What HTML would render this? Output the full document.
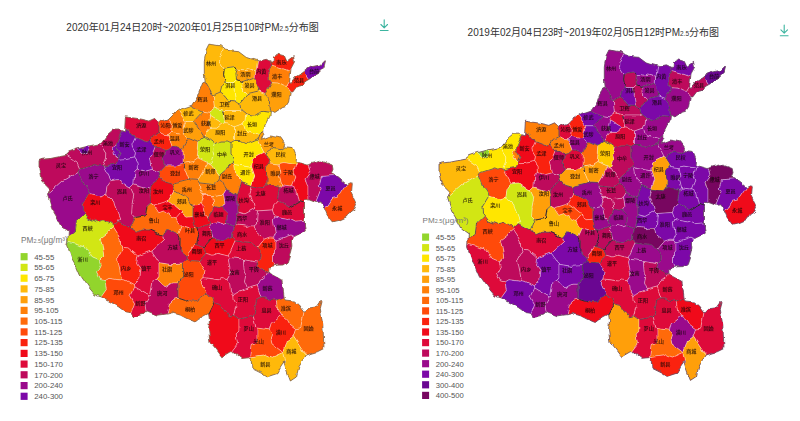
<!DOCTYPE html>
<html lang="zh"><head><meta charset="utf-8"><title>PM2.5分布图</title>
<style>
html,body{margin:0;padding:0;background:#fff;}
body{width:800px;height:421px;overflow:hidden;position:relative;font-family:"Liberation Sans","Noto Sans CJK SC",sans-serif;}
svg{position:absolute;left:0;top:0;}
.ttl{font-size:10px;fill:#333;font-family:"Liberation Sans","Noto Sans CJK SC",sans-serif;}
.lt{fill:#777;font-family:"Liberation Sans","Noto Sans CJK SC",sans-serif;}
.lg{fill:#555;font-family:"Liberation Sans","Noto Sans CJK SC",sans-serif;}
.lab text{font-size:5.1px;fill:#140808;fill-opacity:.85;stroke:#140808;stroke-width:.16px;stroke-opacity:.6;text-anchor:middle;font-family:"Liberation Sans","Noto Sans CJK SC",sans-serif;}
</style></head><body>
<svg width="800" height="421" viewBox="0 0 800 421">
<rect width="800" height="421" fill="#fff"/>
<defs><filter id="wv" x="-5%" y="-5%" width="110%" height="110%" color-interpolation-filters="sRGB"><feTurbulence type="fractalNoise" baseFrequency="0.11" numOctaves="2" seed="7" result="n"/><feDisplacementMap in="SourceGraphic" in2="n" scale="4.5" xChannelSelector="R" yChannelSelector="G"/></filter></defs>
<g id="mapL" style="filter:blur(.45px)">
<g filter="url(#wv)">
<g stroke="#fff" stroke-opacity=".6" stroke-width=".5" stroke-linejoin="round">
<path d="M223.7,48.7L220.3,45.9L214.0,44.8L208.9,44.2L206.0,50.0L204.3,61.8L204.3,73.5L205.2,80.9L212.3,93.9L214.4,94.6L220.2,92.0L221.6,86.6L225.1,82.5L223.6,74.5L224.2,68.1L219.7,61.3L220.2,56.7L221.3,55.5Z" fill="#FFB90A"/>
<path d="M238.7,51.7L232.0,51.0L225.3,50.0L223.7,48.7L221.3,55.5L220.2,56.7L219.7,61.3L224.2,68.1L236.0,66.4L237.3,69.2L245.1,69.9L247.7,68.7L255.6,71.0L256.2,70.5L257.7,60.7L252.0,59.0L245.4,56.8Z" fill="#FFB90A"/>
<path d="M255.6,71.0L247.7,68.7L245.1,69.9L237.3,69.2L235.9,73.4L236.6,79.6L241.6,81.6L246.8,80.1L249.5,80.8L255.3,78.7Z" fill="#FF9F0A"/>
<path d="M271.7,65.2L270.4,61.2L266.3,59.3L258.8,61.0L257.7,60.7L256.2,70.5L255.6,71.0L255.3,78.7L256.3,79.5L258.8,90.9L265.1,93.6L271.7,82.8L269.4,79.5L268.7,70.5Z" fill="#DE0A3A"/>
<path d="M270.4,112.3L270.5,111.7L270.7,111.8L268.9,98.4L265.4,94.6L265.1,93.6L258.8,90.9L249.5,93.2L248.0,94.5L246.8,94.8L239.9,103.9L240.8,109.7L245.5,113.5L245.8,114.1L253.9,115.3L263.0,111.3Z" fill="#FFB90A"/>
<path d="M223.6,74.5L225.1,82.5L233.4,82.5L236.6,79.6L235.9,73.4L237.3,69.2L236.0,66.4L224.2,68.1Z" fill="#FFE600"/>
<path d="M236.6,79.6L233.4,82.5L234.3,90.2L234.0,90.7L235.4,100.9L239.9,103.9L246.8,94.8L242.8,90.8L241.6,81.6Z" fill="#FFE600"/>
<path d="M225.1,82.5L221.6,86.6L220.2,92.0L222.4,93.2L227.9,100.3L235.4,100.9L234.0,90.7L234.3,90.2L233.4,82.5Z" fill="#FFE600"/>
<path d="M256.3,79.5L255.3,78.7L249.5,80.8L246.8,80.1L241.6,81.6L242.8,90.8L246.8,94.8L248.0,94.5L249.5,93.2L258.8,90.9Z" fill="#FFB90A"/>
<path d="M284.4,55.9L278.6,54.2L273.5,56.8L273.0,62.6L270.4,61.2L271.7,65.2L281.7,68.1L283.0,67.8L290.8,70.5L291.0,68.5L294.5,61.8L293.6,56.8L287.0,61.8Z" fill="#FA220F"/>
<path d="M271.7,65.2L268.7,70.5L269.4,79.5L271.7,82.8L278.0,83.1L283.1,86.0L286.6,86.4L289.6,81.5L290.8,70.5L283.0,67.8L281.7,68.1Z" fill="#FF7F08"/>
<path d="M271.7,82.8L265.1,93.6L265.4,94.6L268.9,98.4L270.7,111.8L273.9,113.4L282.7,107.5L285.6,106.7L288.6,102.0L290.3,92.0L291.1,92.0L286.6,86.4L283.1,86.0L278.0,83.1Z" fill="#FF9F0A"/>
<path d="M302.0,73.5L295.3,77.7L291.0,83.5L289.5,82.0L289.6,81.5L286.6,86.4L291.1,92.0L292.8,92.0L297.8,85.2L302.0,84.4L306.2,81.0L308.6,79.6L303.6,72.1Z" fill="#FA220F"/>
<path d="M323.8,67.6L325.5,61.0L324.6,60.1L319.6,65.1L311.2,66.8L304.9,71.0L303.6,72.1L308.6,79.6L316.3,75.2Z" fill="#7C08A8"/>
<path d="M205.2,80.9L202.7,81.9L197.6,95.3L191.8,105.3L189.9,105.9L202.1,112.1L203.1,111.4L209.2,112.4L215.4,108.2L214.4,94.6L212.3,93.9Z" fill="#FF7F08"/>
<path d="M220.2,92.0L214.4,94.6L215.4,108.2L222.9,110.5L238.8,110.5L240.8,109.7L239.9,103.9L235.4,100.9L227.9,100.3L222.4,93.2Z" fill="#FFB90A"/>
<path d="M224.8,122.7L222.8,110.4L215.4,108.2L209.2,112.4L210.4,116.3L222.1,123.8L224.3,123.1Z" fill="#D2E614"/>
<path d="M210.4,116.3L209.0,124.8L210.6,128.2L216.8,128.2L222.1,123.8Z" fill="#FFB90A"/>
<path d="M209.2,112.4L203.1,111.4L202.1,112.1L195.3,119.5L194.4,121.5L194.9,122.4L195.0,123.3L203.9,136.5L204.8,136.5L210.6,128.2L209.0,124.8L210.4,116.3Z" fill="#FF7F08"/>
<path d="M222.9,110.5L224.8,122.7L228.5,122.9L234.5,126.8L243.2,123.6L245.1,120.4L245.8,114.1L245.5,113.5L240.8,109.7L238.8,110.5Z" fill="#FFB90A"/>
<path d="M263.8,128.5L270.0,116.0L270.4,112.3L263.0,111.3L253.9,115.3L245.8,114.1L245.1,120.4L243.2,123.6L245.3,130.4L259.8,134.6L262.1,131.8L263.8,130.6Z" fill="#FFE600"/>
<path d="M216.8,128.2L210.6,128.2L204.8,136.5L214.5,143.8L220.0,141.0L226.9,141.0L231.0,142.5L234.5,140.5L234.5,126.8L228.5,122.9L224.8,122.7L224.3,123.1L222.1,123.8Z" fill="#FFB90A"/>
<path d="M234.5,126.8L234.5,140.5L240.2,140.5L246.4,143.8L248.3,143.6L257.7,139.8L259.8,134.6L245.3,130.4L243.2,123.6Z" fill="#FFB90A"/>
<path d="M189.9,105.9L181.7,108.7L178.2,111.1L185.8,121.5L194.4,121.5L195.3,119.5L202.1,112.1Z" fill="#FFB90A"/>
<path d="M188.9,137.5L197.8,141.2L203.9,136.5L195.0,123.3L194.9,122.4L194.4,121.5L185.8,121.5L184.1,123.6L182.1,133.3L188.2,137.6Z" fill="#FF9F0A"/>
<path d="M185.8,121.5L178.2,111.1L172.0,115.0L168.5,118.5L172.2,125.3L171.6,131.9L179.3,134.1L182.1,133.3L184.1,123.6Z" fill="#FF7F08"/>
<path d="M168.0,134.7L171.6,131.9L172.2,125.3L168.5,118.5L168.0,119.0L162.0,121.0L159.0,123.4L159.0,132.2L163.2,134.3Z" fill="#FF4A0A"/>
<path d="M159.0,132.2L153.2,135.2L150.1,141.3L154.9,147.2L161.0,147.7L165.8,150.5L168.7,149.6L172.2,146.5L168.0,134.7L163.2,134.3Z" fill="#FA220F"/>
<path d="M171.6,131.9L168.0,134.7L172.2,146.5L176.3,146.2L182.3,148.3L188.2,137.6L182.1,133.3L179.3,134.1Z" fill="#FF7F08"/>
<path d="M137.0,118.4L125.4,116.8L124.7,129.3L133.8,134.4L134.5,135.5L135.2,137.7L146.4,142.0L150.1,141.3L153.2,135.2L159.0,132.2L159.0,123.4L158.9,123.5L154.7,118.4L148.8,121.0Z" fill="#DE0A3A"/>
<path d="M204.8,136.5L203.9,136.5L197.8,141.2L197.2,149.5L197.8,150.5L197.2,158.6L207.7,163.8L211.2,163.1L212.5,161.2L214.1,154.5L212.9,150.5L214.5,143.8Z" fill="#D2E614"/>
<path d="M197.8,141.2L188.9,137.5L188.2,137.6L182.3,148.3L183.0,149.5L183.0,163.5L192.6,161.8L197.2,158.6L197.8,150.5L197.2,149.5Z" fill="#FF7F08"/>
<path d="M214.5,143.8L212.9,150.5L214.1,154.5L212.5,161.2L211.2,163.1L218.4,175.3L231.4,163.9L233.3,163.2L233.5,159.5L231.0,154.5L231.0,142.5L226.9,141.0L220.0,141.0Z" fill="#D2E614"/>
<path d="M183.0,163.5L183.0,149.5L182.3,148.3L176.3,146.2L172.2,146.5L168.7,149.6L165.8,150.5L162.9,159.2L164.4,166.0L175.8,166.0L178.6,164.4Z" fill="#9A0A8C"/>
<path d="M189.0,179.1L183.0,163.5L178.6,164.4L175.8,166.0L164.4,166.0L159.1,171.7L160.4,178.1L164.9,182.3L172.9,184.1L174.2,182.8Z" fill="#FF4A0A"/>
<path d="M192.6,161.8L183.1,163.6L189.0,179.1L190.4,179.9L197.7,180.3L200.1,176.5L207.7,163.8L197.2,158.6Z" fill="#FF7F08"/>
<path d="M218.4,175.3L211.2,163.1L207.7,163.8L200.1,176.5L197.7,180.3L199.2,182.8L213.5,184.6L219.4,179.9L218.3,176.5Z" fill="#FF9F0A"/>
<path d="M257.7,139.8L248.3,143.6L246.4,143.8L240.2,140.5L234.5,140.5L231.0,142.5L231.0,154.5L233.5,159.5L233.3,163.2L234.4,164.4L251.0,167.2L251.7,167.0L252.7,159.3L255.0,157.0L264.0,152.5Z" fill="#FFE600"/>
<path d="M259.8,134.6L257.7,139.8L264.0,152.5L264.9,152.9L272.5,148.4L280.0,149.7L284.0,147.0L284.7,143.6L280.6,137.7L270.5,136.0L261.3,139.4L263.8,133.5L263.8,130.6L262.1,131.8Z" fill="#FF9F0A"/>
<path d="M251.7,167.0L254.7,176.0L251.6,185.2L252.1,186.0L264.0,187.7L266.7,184.7L267.2,177.2L266.5,176.0L266.5,167.0L269.6,163.0L264.9,152.9L264.0,152.5L255.0,157.0L252.7,159.3Z" fill="#F00A1A"/>
<path d="M235.9,175.9L241.6,181.6L251.6,185.2L254.7,176.0L251.7,167.0L251.0,167.2L234.4,164.4Z" fill="#FFE600"/>
<path d="M231.4,163.9L218.4,175.3L218.3,176.5L219.4,179.9L222.4,181.9L226.1,189.8L228.2,190.1L237.5,195.7L237.6,195.6L241.6,181.6L235.9,175.9L234.4,164.4L233.3,163.2Z" fill="#FF7F08"/>
<path d="M283.9,147.7L284.0,147.0L280.0,149.7L272.5,148.4L264.9,152.9L269.6,163.0L279.2,164.1L280.0,163.4L283.9,162.6L295.8,164.7L298.7,162.5L296.0,161.7L296.5,157.0L293.1,148.6Z" fill="#FFB90A"/>
<path d="M267.2,177.2L266.7,184.7L279.2,187.2L281.8,184.9L279.6,175.8L281.0,172.8L279.2,164.1L269.6,163.0L266.5,167.0L266.5,176.0Z" fill="#FF7F08"/>
<path d="M281.0,172.8L279.6,175.8L281.8,184.9L289.9,186.0L291.6,185.4L294.9,177.0L293.6,174.2L295.8,164.7L283.9,162.6L280.0,163.4L279.2,164.1Z" fill="#FF4A0A"/>
<path d="M293.6,174.2L294.9,177.0L291.6,185.4L296.5,188.5L299.2,200.8L299.7,201.5L304.5,203.3L304.5,199.5L308.0,199.8L308.0,186.8L307.2,186.1L305.1,177.9L310.0,171.2L308.1,164.9L307.9,165.0L298.7,162.5L295.8,164.7Z" fill="#F00A1A"/>
<path d="M321.4,176.4L334.7,175.6L331.3,173.5L333.0,169.3L332.2,165.0L321.3,160.9L311.2,163.4L308.1,164.9L310.0,171.2L305.1,177.9L307.2,186.1L308.0,186.8L308.0,199.8L309.5,200.0L315.7,202.4L321.2,188.4L319.3,185.0Z" fill="#BE0A5C"/>
<path d="M321.4,176.4L319.3,185.0L321.2,188.4L315.7,202.4L316.0,202.5L321.0,202.0L322.9,205.0L324.1,207.7L327.6,205.8L332.3,198.5L338.0,197.0L346.5,184.3L346.4,184.3L338.0,177.6L334.7,175.6Z" fill="#7C08A8"/>
<path d="M351.4,193.6L352.3,183.5L349.7,182.7L346.5,184.3L338.0,197.0L332.3,198.5L327.6,205.8L324.1,207.7L327.1,215.0L332.1,221.8L339.7,220.0L346.4,217.0L349.7,212.0L354.8,208.6L356.5,204.4Z" fill="#FF4A0A"/>
<path d="M296.5,188.5L291.6,185.4L289.9,186.0L281.8,184.9L279.2,187.2L277.4,199.4L277.8,201.6L279.9,201.7L289.2,207.3L299.7,201.5L299.2,200.8Z" fill="#BE0A5C"/>
<path d="M154.9,147.2L151.4,155.9L150.0,157.0L152.5,169.3L159.1,171.7L164.4,166.0L162.9,159.2L165.8,150.5L161.0,147.7Z" fill="#BE0A5C"/>
<path d="M132.3,147.6L135.3,152.8L134.6,157.9L138.0,162.9L138.3,168.1L146.2,171.0L152.5,169.3L150.0,157.0L151.4,155.9L154.9,147.2L150.1,141.3L146.4,142.0L135.2,137.7L131.8,145.0Z" fill="#7C08A8"/>
<path d="M135.2,137.7L134.5,135.5L133.8,134.4L124.7,129.3L124.5,131.8L121.8,130.8L116.8,142.7L116.0,143.2L115.5,143.7L115.4,144.3L119.8,152.5L117.4,157.1L118.3,159.2L125.4,158.8L126.5,159.5L134.6,157.9L135.3,152.8L132.3,147.6L131.8,145.0Z" fill="#7C08A8"/>
<path d="M118.3,159.2L115.9,163.9L103.3,166.1L111.1,180.8L118.4,179.7L129.1,187.4L130.5,187.5L133.9,184.1L134.9,171.0L138.3,168.1L138.0,162.9L134.6,157.9L126.5,159.5L125.4,158.8Z" fill="#7C08A8"/>
<path d="M138.3,168.1L134.9,171.0L133.9,184.1L134.4,184.0L149.4,188.3L150.7,185.0L160.4,178.1L159.1,171.7L152.5,169.3L146.2,171.0Z" fill="#9A0A8C"/>
<path d="M78.4,172.7L83.2,185.1L84.8,185.9L89.5,193.4L100.7,196.1L105.8,194.4L107.2,186.6L111.1,180.8L103.3,166.1L102.4,165.5L97.3,165.5L94.8,164.4L80.5,169.2Z" fill="#9A0A8C"/>
<path d="M84.6,213.4L85.3,213.8L88.7,218.3L97.0,221.9L104.1,219.8L113.1,226.1L118.4,221.2L119.7,218.1L114.2,203.8L114.3,203.1L113.4,201.1L105.8,194.4L100.7,196.1L89.5,193.4L83.1,204.5L83.5,211.7Z" fill="#F00A1A"/>
<path d="M111.1,180.8L107.2,186.6L105.8,194.4L113.4,201.1L114.3,203.1L114.2,203.8L119.7,218.1L118.4,221.2L130.3,228.0L134.4,217.0L131.8,214.1L132.3,205.2L132.0,204.6L133.9,194.8L130.5,187.5L129.1,187.4L118.4,179.7Z" fill="#BE0A5C"/>
<path d="M130.5,187.5L133.9,194.8L132.0,204.6L132.3,205.2L131.8,214.1L134.4,217.0L136.0,217.4L145.4,215.7L146.9,206.6L150.6,203.2L150.3,196.3L150.4,196.0L149.4,188.3L134.4,184.0L133.9,184.1Z" fill="#BE0A5C"/>
<path d="M121.8,130.8L119.5,130.0L112.8,130.0L106.0,136.0L100.3,143.6L99.8,143.7L105.7,153.3L105.5,158.0L102.4,165.5L103.3,166.1L115.9,163.9L118.3,159.2L117.4,157.1L114.6,155.3L113.3,148.5L115.4,144.3L115.5,143.7L116.0,143.2L116.8,142.7Z" fill="#BE0A5C"/>
<path d="M119.8,152.5L115.4,144.3L113.3,148.5L114.6,155.3L117.4,157.1Z" fill="#7C08A8"/>
<path d="M97.3,165.5L102.4,165.5L105.5,158.0L105.7,153.3L99.8,143.7L90.2,145.7L87.0,153.7L81.2,153.3L78.0,148.8L68.4,152.0L66.7,155.3L77.7,162.6L80.5,169.2L94.8,164.4Z" fill="#BE0A5C"/>
<path d="M81.2,153.3L87.0,153.7L90.2,145.7L88.5,146.0L78.0,148.8Z" fill="#7C08A8"/>
<path d="M80.5,169.2L77.7,162.6L66.7,155.3L57.5,157.0L50.0,158.6L42.0,159.3L39.0,160.5L39.0,168.0L40.5,176.7L41.7,180.0L50.0,188.5L48.1,193.6L61.5,181.4L62.8,181.7L77.7,172.8L78.4,172.7Z" fill="#BE0A5C"/>
<path d="M62.8,181.7L61.5,181.4L48.1,193.6L47.5,195.2L51.7,208.6L56.7,217.0L61.8,227.0L68.4,231.7L68.1,236.3L75.3,231.0L76.5,221.5L84.6,213.4L83.5,211.7L83.1,204.5L89.5,193.4L84.8,185.9L83.2,185.1L78.4,172.7L77.7,172.8Z" fill="#9A0A8C"/>
<path d="M150.4,196.0L150.3,196.3L150.6,203.2L154.1,205.4L168.5,200.9L168.6,200.8L168.6,200.2L174.6,189.9L172.9,184.1L164.9,182.3L160.4,178.1L150.7,185.0L149.4,188.3Z" fill="#F00A1A"/>
<path d="M170.4,214.7L164.3,210.7L158.8,212.6L154.1,205.4L150.6,203.2L146.9,206.6L145.4,215.7L136.0,217.4L134.4,217.0L130.3,228.0L130.8,229.3L136.7,232.5L142.2,230.0L149.5,230.0L162.6,236.1L167.5,229.5L169.0,229.5L178.6,234.3L182.3,225.9L181.9,225.1L177.8,222.5L176.1,218.8L170.9,217.0Z" fill="#FF6A0A"/>
<path d="M185.2,195.5L174.6,189.9L168.6,200.2L168.6,200.8L174.8,205.3L175.1,206.0L181.1,210.9L181.3,212.8L187.1,217.3L193.0,216.7L193.0,205.4L190.7,204.0L187.0,197.5L185.9,196.8Z" fill="#FF9F0A"/>
<path d="M158.8,212.6L164.3,210.7L170.4,214.7L170.9,217.0L176.1,218.8L181.3,212.8L181.1,210.9L175.1,206.0L174.8,205.3L168.6,200.8L154.1,205.4Z" fill="#F00A1A"/>
<path d="M177.8,222.5L181.9,225.1L182.3,225.9L192.4,229.1L195.4,228.1L193.1,216.8L193.0,216.7L187.1,217.3L181.3,212.8L176.1,218.8Z" fill="#F00A1A"/>
<path d="M182.3,225.9L178.6,234.3L180.0,238.9L180.0,249.6L186.7,255.6L194.3,245.2L196.7,244.6L198.8,234.2L196.9,228.7L195.4,228.1L192.4,229.1Z" fill="#FF4A0A"/>
<path d="M186.7,255.6L187.2,259.3L189.6,260.6L199.5,261.2L205.9,253.4L203.5,247.5L196.7,244.6L194.3,245.2Z" fill="#F00A1A"/>
<path d="M172.9,184.1L174.6,189.9L185.2,195.5L185.9,196.8L187.0,197.5L190.7,204.0L193.0,205.4L200.4,203.9L203.5,194.5L200.1,190.0L199.2,182.8L197.7,180.3L190.4,179.9L189.0,179.1L174.2,182.8Z" fill="#FF7F08"/>
<path d="M226.1,189.8L222.4,181.9L219.4,179.9L213.5,184.6L199.2,182.8L200.1,190.0L203.5,194.5L211.3,194.5L212.8,195.7L223.4,194.2Z" fill="#FF7F08"/>
<path d="M212.8,195.7L211.3,194.5L203.5,194.5L200.4,203.9L202.7,205.8L204.7,215.4L208.0,218.2L215.1,206.6L213.7,205.2Z" fill="#FF4A0A"/>
<path d="M213.7,205.2L215.1,206.6L220.5,207.9L222.5,207.5L225.0,203.5L223.4,194.2L212.8,195.7Z" fill="#FF7F08"/>
<path d="M223.4,194.2L225.0,203.5L222.5,207.5L227.4,213.0L226.4,222.3L234.4,225.4L235.7,224.7L238.2,212.1L238.0,211.8L238.0,204.8L236.5,202.4L237.5,195.7L228.2,190.1L226.1,189.8Z" fill="#9A0A8C"/>
<path d="M193.0,205.4L193.0,216.7L195.4,228.1L196.9,228.7L209.7,223.7L210.0,223.2L208.0,218.2L204.7,215.4L202.7,205.8L200.4,203.9Z" fill="#F00A1A"/>
<path d="M215.1,206.6L208.0,218.2L210.0,223.2L216.5,222.0L222.5,223.7L226.4,222.3L227.4,213.0L222.5,207.5L220.5,207.9Z" fill="#DE0A3A"/>
<path d="M212.9,237.8L209.7,223.7L196.9,228.7L198.7,234.3L196.7,244.6L203.5,247.5L211.5,238.5Z" fill="#DE0A3A"/>
<path d="M226.4,222.3L222.5,223.7L216.5,222.0L210.0,223.2L209.7,223.7L212.9,237.8L215.4,238.6L216.3,239.7L222.9,241.0L232.8,237.3L232.6,236.6L234.4,225.4Z" fill="#9A0A8C"/>
<path d="M237.6,195.6L237.5,195.7L236.5,202.4L238.0,204.8L238.0,211.8L238.2,212.1L245.0,213.9L254.8,208.4L253.3,202.9L253.3,202.5L249.9,194.4L252.1,186.0L251.6,185.2L241.6,181.6Z" fill="#DE0A3A"/>
<path d="M266.7,184.7L264.0,187.7L252.1,186.0L249.9,194.4L253.3,202.5L253.3,202.9L254.8,208.4L257.5,210.9L272.4,209.9L274.0,205.6L277.8,201.6L277.4,199.4L279.2,187.2Z" fill="#DE0A3A"/>
<path d="M257.5,210.9L254.8,208.4L245.0,213.9L238.2,212.1L235.7,224.7L247.1,226.4L248.0,226.0L254.1,226.0L256.5,224.1Z" fill="#BE0A5C"/>
<path d="M272.4,209.9L257.5,210.9L256.5,224.1L254.1,226.0L255.6,231.7L264.4,239.1L269.8,237.1L273.6,237.3L275.4,232.7L273.4,220.0L274.9,217.0Z" fill="#BE0A5C"/>
<path d="M289.2,207.3L279.9,201.7L277.8,201.6L274.0,205.6L272.4,209.9L274.9,217.0L287.9,219.6L289.0,219.0L295.5,222.2L304.5,221.5L304.5,203.3L299.7,201.5Z" fill="#DE0A3A"/>
<path d="M275.4,232.7L273.6,237.3L275.0,239.3L277.5,239.5L291.0,235.0L294.6,236.8L295.3,236.0L305.3,231.0L304.5,225.0L304.5,221.5L295.5,222.2L289.0,219.0L287.9,219.6L274.9,217.0L273.4,220.0Z" fill="#9A0A8C"/>
<path d="M235.4,240.1L242.8,240.9L243.8,241.8L250.8,242.7L256.8,247.2L257.7,247.4L264.4,239.1L255.6,231.7L254.1,226.0L248.0,226.0L247.1,226.4L235.7,224.7L234.4,225.4L232.6,236.6L232.8,237.3Z" fill="#DE0A3A"/>
<path d="M275.0,239.3L273.6,237.3L269.8,237.1L264.4,239.1L257.7,247.4L260.0,250.3L260.0,258.1L257.1,262.2L258.8,267.3L268.2,272.5L268.9,271.9L268.9,266.9L275.0,265.7L273.5,261.9L273.5,251.7L275.0,249.6Z" fill="#FA220F"/>
<path d="M291.9,246.0L291.5,240.0L294.6,236.8L291.0,235.0L277.5,239.5L275.0,239.3L275.0,249.6L273.5,251.7L273.5,261.9L275.0,265.7L277.3,265.2L283.0,265.0L287.3,261.9L290.6,251.8Z" fill="#BE0A5C"/>
<path d="M235.4,240.1L232.8,237.3L222.9,241.0L216.3,239.7L215.4,238.6L212.9,237.8L211.5,238.5L203.5,247.5L205.9,253.4L213.0,255.3L217.7,253.4L228.4,256.1L228.6,255.2Z" fill="#F00A1A"/>
<path d="M242.0,259.0L243.5,260.0L244.1,259.9L257.1,262.2L260.0,258.1L260.0,250.3L257.7,247.4L256.8,247.2L250.8,242.7L243.8,241.8L242.8,240.9L235.4,240.1L228.6,255.2L228.4,256.1L229.4,257.7Z" fill="#DE0A3A"/>
<path d="M205.9,253.4L199.5,261.2L205.0,270.6L203.8,277.7L218.4,279.8L220.5,278.7L227.1,279.5L230.8,273.6L228.6,260.3L229.4,257.7L228.4,256.1L217.7,253.4L213.0,255.3Z" fill="#DE0A3A"/>
<path d="M229.4,257.7L228.6,260.3L230.8,273.6L227.1,279.5L229.7,283.4L230.3,291.5L232.9,294.9L247.1,289.2L247.3,288.5L244.6,281.7L245.9,274.5L244.3,272.2L243.5,260.0L242.0,259.0Z" fill="#BE0A5C"/>
<path d="M245.9,274.5L244.6,281.7L247.3,288.5L257.2,285.8L259.2,283.8L259.9,280.7L267.9,274.3L268.2,272.5L258.8,267.3L257.1,262.2L244.1,259.9L243.5,260.0L244.3,272.2Z" fill="#BE0A5C"/>
<path d="M272.6,275.0L268.9,272.0L268.9,271.9L268.2,272.5L267.9,274.3L259.9,280.7L259.2,283.8L257.2,285.8L261.0,297.0L265.2,297.0L269.2,299.5L273.6,299.5L276.3,301.0L284.2,297.7L283.5,291.8L281.8,280.0Z" fill="#9A0A8C"/>
<path d="M229.7,283.4L227.1,279.5L220.5,278.7L218.4,279.8L203.8,277.7L201.8,279.6L201.2,283.0L206.0,294.1L212.8,297.2L214.6,302.9L220.7,304.6L229.3,316.1L233.6,315.3L236.6,304.0L233.1,298.5L232.9,294.9L230.3,291.5Z" fill="#DE0A3A"/>
<path d="M232.9,294.9L233.1,298.5L236.6,304.0L233.6,315.3L239.0,319.0L253.3,316.4L254.7,313.9L254.4,312.9L256.6,299.2L261.0,297.0L257.2,285.8L247.3,288.5L247.1,289.2Z" fill="#DE0A3A"/>
<path d="M203.8,277.7L205.0,270.6L199.5,261.2L189.6,260.6L187.2,259.3L182.5,263.1L182.5,277.7L180.8,279.8L180.3,281.0L178.0,283.0L178.0,298.0L184.8,300.2L188.0,299.6L191.4,301.2L197.3,300.5L206.0,294.1L201.2,283.0L201.8,279.6Z" fill="#FF4A0A"/>
<path d="M180.0,238.9L178.6,234.3L169.0,229.5L167.5,229.5L162.6,236.1L163.5,240.5L151.3,251.5L156.9,259.4L157.0,260.0L159.0,262.7L172.0,264.8L173.7,263.7L182.5,263.1L187.2,259.3L186.7,255.6L180.0,249.6Z" fill="#BE0A5C"/>
<path d="M118.4,221.2L113.1,226.1L113.1,227.4L120.1,238.4L120.7,244.0L123.2,247.5L128.1,247.9L137.6,256.0L150.5,251.2L151.3,251.5L163.5,240.5L162.6,236.1L149.5,230.0L142.2,230.0L136.7,232.5L130.8,229.3L130.3,228.0Z" fill="#F00A1A"/>
<path d="M101.7,243.0L102.8,244.0L104.7,255.3L99.2,260.8L100.2,264.7L96.5,272.0L100.3,279.6L105.0,280.7L109.0,278.4L120.2,280.0L121.4,279.5L118.7,263.3L118.2,262.7L117.6,257.4L123.2,247.5L120.7,244.0L120.1,238.4L113.1,227.4L100.4,237.5Z" fill="#FF6A0A"/>
<path d="M117.6,257.4L118.2,262.7L118.7,263.3L121.4,279.5L125.9,280.4L133.4,284.6L138.7,279.3L140.1,268.5L136.7,263.8L137.6,256.0L128.1,247.9L123.2,247.5Z" fill="#FA220F"/>
<path d="M156.7,278.4L159.0,275.5L159.0,262.7L157.0,260.0L156.9,259.4L151.3,251.5L150.5,251.2L137.6,256.0L136.7,263.8L140.1,268.5L138.7,279.3L133.4,284.6L133.8,286.9L149.2,295.9L150.6,295.5L153.1,280.5L155.1,279.0Z" fill="#DE0A3A"/>
<path d="M159.0,275.5L156.7,278.4L164.6,287.5L166.0,287.5L172.8,283.0L178.0,283.0L180.3,281.0L180.8,279.8L182.5,277.7L182.5,263.1L173.7,263.7L172.0,264.8L159.0,262.7Z" fill="#FF7F08"/>
<path d="M113.1,227.4L113.1,226.1L104.1,219.8L97.0,221.9L88.7,218.3L85.3,213.8L84.6,213.4L76.5,221.5L75.3,231.0L68.1,236.3L67.8,242.1L83.8,246.7L85.9,250.1L88.2,251.1L92.0,257.7L99.2,260.8L104.7,255.3L102.8,244.0L101.7,243.0L100.4,237.5Z" fill="#D2E614"/>
<path d="M67.8,242.1L67.6,245.0L71.8,258.5L76.8,267.0L80.2,275.0L88.5,287.0L95.2,295.0L101.2,296.9L106.4,289.5L105.0,280.7L100.3,279.6L96.5,272.0L100.2,264.7L99.2,260.8L92.0,257.7L88.2,251.1L85.9,250.1L83.8,246.7Z" fill="#92D52C"/>
<path d="M105.0,280.7L106.4,289.5L101.2,296.9L110.3,301.8L118.6,306.9L125.3,311.9L130.4,312.7L130.9,313.3L134.6,303.0L130.1,294.8L133.8,286.9L133.4,284.6L125.9,280.4L121.4,279.5L120.2,280.0L109.0,278.4Z" fill="#FF4A0A"/>
<path d="M130.1,294.8L134.6,303.0L130.9,313.3L133.7,316.9L143.8,314.4L146.3,311.9L144.9,303.0L149.2,295.9L133.8,286.9Z" fill="#DE0A3A"/>
<path d="M156.7,278.4L155.1,279.0L153.1,280.5L150.6,295.5L149.2,295.9L144.9,303.0L146.3,311.9L147.1,311.0L157.2,315.2L167.3,313.8L169.7,303.0L173.9,299.4L178.0,298.0L178.0,283.0L172.8,283.0L166.0,287.5L164.6,287.5Z" fill="#BE0A5C"/>
<path d="M208.7,314.6L214.6,302.9L212.8,297.2L206.0,294.1L197.3,300.5L191.4,301.2L188.0,299.6L184.8,300.2L178.0,298.0L173.9,299.4L169.7,303.0L167.3,313.8L168.9,313.6L172.2,312.7L180.6,315.2L186.8,318.5L195.0,321.9L199.3,318.5L208.5,313.5Z" fill="#FF6A0A"/>
<path d="M261.0,297.0L256.6,299.2L254.4,312.9L254.7,313.9L253.3,316.4L255.7,327.0L257.0,328.1L269.3,329.9L271.2,323.2L280.8,315.6L278.2,312.0L276.3,301.0L273.6,299.5L269.2,299.5L265.2,297.0Z" fill="#DE0A3A"/>
<path d="M280.8,315.6L283.1,316.3L287.7,320.3L289.4,323.7L295.8,328.7L300.0,328.0L301.0,327.0L304.0,311.9L303.5,311.9L298.5,305.0L293.5,301.0L285.0,300.0L284.3,298.5L284.2,297.7L276.3,301.0L278.2,312.0Z" fill="#FF6A0A"/>
<path d="M208.7,314.6L209.5,320.0L208.5,330.0L210.0,341.7L216.8,350.0L221.8,356.8L230.2,351.8L232.0,351.8L232.2,350.6L237.6,343.5L236.2,333.8L239.0,331.0L239.0,319.0L233.6,315.3L229.3,316.1L220.7,304.6L214.6,302.9Z" fill="#F00A1A"/>
<path d="M239.0,331.0L236.2,333.8L237.6,343.5L232.2,350.6L232.0,351.8L233.5,351.8L241.9,358.5L249.2,357.8L249.7,356.9L251.2,345.4L255.7,343.7L257.0,342.2L257.0,328.1L255.7,327.0L253.3,316.4L239.0,319.0Z" fill="#DE0A3A"/>
<path d="M287.7,320.3L283.1,316.3L280.8,315.6L271.2,323.2L269.3,329.9L272.4,334.8L270.9,339.4L271.9,343.8L282.8,352.4L284.2,351.3L287.5,340.8L293.2,336.5L295.8,328.7L289.4,323.7Z" fill="#FA220F"/>
<path d="M269.3,329.9L257.0,328.1L257.0,342.2L255.7,343.7L251.2,345.4L249.7,356.9L264.1,355.0L265.0,353.9L272.2,357.3L282.7,352.6L282.8,352.4L271.9,343.8L270.9,339.4L272.4,334.8Z" fill="#FF4A0A"/>
<path d="M322.0,301.8L321.1,300.2L317.0,306.0L310.2,306.9L305.2,311.9L304.0,311.9L301.0,327.0L300.0,328.0L295.8,328.7L293.2,336.5L304.1,353.0L304.6,353.2L306.2,355.3L306.4,355.0L317.3,351.8L324.0,348.4L322.8,325.3L320.3,308.5Z" fill="#FF6A0A"/>
<path d="M293.2,336.5L287.5,340.8L284.2,351.3L282.8,352.4L282.7,352.6L284.7,363.4L284.5,363.9L287.0,372.0L290.4,381.0L296.3,377.0L298.8,366.9L306.2,355.3L304.6,353.2L304.1,353.0Z" fill="#FFB90A"/>
<path d="M264.1,355.0L249.7,356.9L249.2,357.8L251.0,357.6L251.9,368.5L262.0,373.6L267.0,376.9L277.0,373.6L280.4,366.9L283.8,361.8L284.5,363.9L284.7,363.4L282.7,352.6L272.2,357.3L265.0,353.9Z" fill="#FFB90A"/>
</g>
<path d="M205.4,81.3L212.3,93.9M212.3,93.9L214.4,94.6M214.4,94.6L220.2,92.0M220.2,92.0L221.6,86.6M221.6,86.6L225.1,82.5M225.1,82.5L223.6,74.5L224.2,68.1M224.2,68.1L236.0,66.4M236.0,66.4L236.0,66.4L237.3,69.2M237.3,69.2L235.9,73.4M235.9,73.4L236.6,79.6M236.6,79.6L241.6,81.6M241.6,81.6L246.8,80.1M246.8,80.1L249.5,80.8M249.5,80.8L255.3,78.7M255.3,78.7L256.3,79.5M256.3,79.5L258.8,90.9M258.8,90.9L249.5,93.2M249.5,93.2L248.0,94.5M248.0,94.5L246.8,94.8M246.8,94.8L239.9,103.9M239.9,103.9L240.8,109.7M240.8,109.7L245.5,113.5M245.5,113.5L245.8,114.1M245.8,114.1L253.9,115.3M253.9,115.3L263.0,111.3M263.0,111.3L270.1,112.3M270.6,111.4L268.9,98.4M268.9,98.4L265.4,94.6M265.4,94.6L265.1,93.6M265.1,93.6L271.7,82.8M271.7,82.8L269.4,79.5M269.4,79.5L268.7,70.5M268.7,70.5L271.7,65.2M271.7,65.2L270.5,61.6M237.3,69.2L236.0,66.4M224.2,68.1L223.6,74.5L225.1,82.5M220.2,92.0L222.4,93.2M222.4,93.2L227.9,100.3M227.9,100.3L235.4,100.9M235.4,100.9L239.9,103.9M241.6,81.6L241.6,81.6L236.6,79.6M190.3,106.1L202.1,112.1M202.1,112.1L195.3,119.5M195.3,119.5L194.4,121.5M194.4,121.5L194.9,122.4M194.9,122.4L195.0,123.3M195.0,123.3L203.9,136.5M203.9,136.5L204.8,136.5M204.8,136.5L214.5,143.8M214.5,143.8L220.0,141.0M220.0,141.0L226.9,141.0M226.9,141.0L231.0,142.5M231.0,142.5L234.5,140.5M234.5,140.5L240.2,140.5M240.2,140.5L246.4,143.8M246.4,143.8L248.3,143.6M248.3,143.6L257.7,139.8M257.7,139.8L259.8,134.6M259.8,134.6L262.1,131.8M262.1,131.8L263.5,130.8M222.8,110.5L223.6,114.8L223.5,114.9L222.8,110.5M159.0,123.8L159.0,132.2M159.0,132.2L153.2,135.2M153.2,135.2L150.1,141.3M150.1,141.3L154.9,147.2M154.9,147.2L161.0,147.7M161.0,147.7L165.8,150.5M165.8,150.5L168.7,149.6M168.7,149.6L172.2,146.5M172.2,146.5L176.3,146.2M176.3,146.2L182.3,148.3M182.3,148.3L188.2,137.6M188.2,137.6L188.9,137.5M188.9,137.5L197.8,141.2M197.8,141.2L203.9,136.5M124.9,129.4L133.8,134.4M133.8,134.4L134.5,135.5M134.5,135.5L135.2,137.7M135.2,137.7L146.4,142.0M146.4,142.0L150.1,141.3M165.8,150.5L162.9,159.2M162.9,159.2L164.4,166.0M164.4,166.0L159.1,171.7M159.1,171.7L160.4,178.1M160.4,178.1L164.9,182.3M164.9,182.3L172.9,184.1M172.9,184.1L174.2,182.8M174.2,182.8L189.0,179.1M189.0,179.1L190.4,179.9M190.4,179.9L197.7,180.3M197.7,180.3L199.2,182.8M199.2,182.8L213.5,184.6M213.5,184.6L219.4,179.9M219.4,179.9L218.3,176.5M218.3,176.5L218.4,175.3M218.4,175.3L231.4,163.9M231.4,163.9L233.3,163.2M233.3,163.2L233.5,159.5M233.5,159.5L231.0,154.5M231.0,154.5L231.0,142.5M183.0,163.5L184.2,163.3L183.1,163.6L184.6,167.4L183.0,163.5M219.4,179.9L222.4,181.9M222.4,181.9L226.1,189.8M226.1,189.8L228.2,190.1M228.2,190.1L237.5,195.7M237.5,195.7L237.6,195.6M237.6,195.6L241.6,181.6M241.6,181.6L251.6,185.2M251.6,185.2L252.1,186.0M252.1,186.0L264.0,187.7M264.0,187.7L266.7,184.7M266.7,184.7L267.2,177.2M267.2,177.2L266.5,176.0M266.5,176.0L266.5,167.0M266.5,167.0L269.6,163.0M269.6,163.0L264.9,152.9M264.9,152.9L272.5,148.4M272.5,148.4L280.0,149.7M280.0,149.7L283.7,147.2M266.7,184.7L279.2,187.2M279.2,187.2L277.4,199.4M277.4,199.4L277.8,201.6M277.8,201.6L279.9,201.7M279.9,201.7L289.2,207.3M289.2,207.3L299.7,201.5L304.2,203.2M121.7,131.1L116.8,142.7M116.8,142.7L116.0,143.2M116.0,143.2L115.5,143.7M115.5,143.7L115.4,144.3M115.4,144.3L119.8,152.5M119.8,152.5L117.4,157.1M117.4,157.1L118.3,159.2M118.3,159.2L115.9,163.9M115.9,163.9L103.3,166.1M103.3,166.1L102.4,165.5M102.4,165.5L97.3,165.5M97.3,165.5L94.8,164.4M94.8,164.4L80.5,169.2M80.5,169.2L78.4,172.7M78.4,172.7L83.2,185.1M83.2,185.1L84.8,185.9M84.8,185.9L89.5,193.4M89.5,193.4L83.1,204.5M83.1,204.5L83.5,211.7M83.5,211.7L84.6,213.4M84.6,213.4L85.3,213.8M85.3,213.8L88.7,218.3M88.7,218.3L97.0,221.9M97.0,221.9L104.1,219.8M104.1,219.8L113.1,226.1M113.1,226.1L118.4,221.2M118.4,221.2L130.3,228.0M130.3,228.0L134.4,217.0M134.4,217.0L136.0,217.4M136.0,217.4L145.4,215.7L146.9,206.6M146.9,206.6L150.6,203.2M150.6,203.2L150.3,196.3M150.3,196.3L150.4,196.0M150.4,196.0L149.4,188.3M149.4,188.3L150.7,185.0M150.7,185.0L160.4,178.1M68.4,236.1L75.3,231.0M75.3,231.0L76.5,221.5M76.5,221.5L84.6,213.4M146.9,206.6L145.4,215.7L136.0,217.4M130.3,228.0L130.8,229.3M130.8,229.3L136.7,232.5M136.7,232.5L142.2,230.0M142.2,230.0L149.5,230.0M149.5,230.0L162.6,236.1M162.6,236.1L167.5,229.5M167.5,229.5L169.0,229.5M169.0,229.5L178.6,234.3M178.6,234.3L180.0,238.9L180.0,249.6M180.0,249.6L186.7,255.6M186.7,255.6L187.2,259.3M187.2,259.3L189.6,260.6M189.6,260.6L199.5,261.2M199.5,261.2L205.9,253.4M205.9,253.4L203.5,247.5M203.5,247.5L196.7,244.6M196.7,244.6L198.8,234.2L196.9,228.7M196.9,228.7L195.4,228.1M195.4,228.1L193.0,216.7M193.0,216.7L193.0,205.4M193.0,205.4L190.7,204.0M190.7,204.0L187.0,197.5M187.0,197.5L185.9,196.8M185.9,196.8L185.2,195.5M185.2,195.5L174.6,189.9M174.6,189.9L172.9,184.1M196.9,228.7L209.7,223.7M209.7,223.7L210.0,223.2M210.0,223.2L208.0,218.2M208.0,218.2L215.1,206.6M215.1,206.6L220.5,207.9M220.5,207.9L222.5,207.5M222.5,207.5L227.4,213.0M227.4,213.0L226.4,222.3M226.4,222.3L234.4,225.4M234.4,225.4L235.7,224.7M235.7,224.7L238.2,212.1M238.2,212.1L238.0,211.8M238.0,211.8L238.0,204.8M238.0,204.8L236.5,202.4M236.5,202.4L237.5,195.7M196.9,228.7L198.7,234.3L196.7,244.6M203.5,247.5L211.5,238.5L212.9,237.8M212.9,237.8L215.4,238.6M215.4,238.6L216.3,239.7M216.3,239.7L222.9,241.0M222.9,241.0L232.8,237.3M232.8,237.3L232.6,236.6M232.6,236.6L234.4,225.4M232.8,237.3L235.4,240.1M235.4,240.1L242.8,240.9M242.8,240.9L243.8,241.8M243.8,241.8L250.8,242.7M250.8,242.7L256.8,247.2M256.8,247.2L257.7,247.4M257.7,247.4L260.0,250.3M260.0,250.3L260.0,258.1M260.0,258.1L257.1,262.2M257.1,262.2L258.8,267.3M258.8,267.3L268.2,272.5M268.2,272.5L268.6,272.1M304.2,203.2L299.7,201.5L289.2,207.3M212.9,237.8L211.5,238.5L203.5,247.5M187.2,259.3L182.5,263.1M182.5,263.1L182.5,277.7M182.5,277.7L180.8,279.8M180.8,279.8L180.3,281.0M180.3,281.0L178.0,283.0M178.0,283.0L178.0,298.0M178.0,298.0L184.8,300.2L188.0,299.6M188.0,299.6L191.4,301.2M191.4,301.2L197.3,300.5M197.3,300.5L206.0,294.1M206.0,294.1L212.8,297.2M212.8,297.2L214.6,302.9M214.6,302.9L220.7,304.6M220.7,304.6L229.3,316.1M229.3,316.1L233.6,315.3M233.6,315.3L239.0,319.0M239.0,319.0L253.3,316.4M253.3,316.4L254.7,313.9M254.7,313.9L254.4,312.9M254.4,312.9L256.6,299.2M256.6,299.2L261.0,297.0M261.0,297.0L265.2,297.0M265.2,297.0L269.2,299.5M269.2,299.5L273.6,299.5M273.6,299.5L276.3,301.0M276.3,301.0L283.9,297.9M208.9,314.2L214.6,302.9L214.6,302.9M188.0,299.6L184.8,300.3L178.0,298.0M180.0,249.6L180.0,238.9L178.6,234.3M162.6,236.1L149.5,230.0L149.5,230.0M214.6,302.9L208.9,314.2" fill="none" stroke="#1c1010" stroke-opacity=".7" stroke-width=".85"/>
<path d="M208.9,44.2L206.0,50.0L204.3,61.8L204.3,73.5L205.2,81.0L202.7,81.9L197.6,95.3L191.8,105.3L181.7,108.7L177.3,111.7L172.0,115.0L168.0,119.0L162.0,121.0L158.9,123.5L154.7,118.4L148.8,121.0L137.0,118.4L125.4,116.8L124.5,131.8L119.5,130.0L112.8,130.0L106.0,136.0L100.3,143.6L88.5,146.0L78.5,148.6L68.4,152.0L66.8,155.3L57.5,157.0L50.0,158.6L42.0,159.3L39.0,160.5L39.0,168.0L40.5,176.7L41.7,180.0L50.0,188.5L47.5,195.2L51.7,208.6L56.7,217.0L61.8,227.0L68.4,231.7L67.6,245.0L71.8,258.5L76.8,267.0L80.2,275.0L88.5,287.0L95.2,295.0L101.0,296.8L110.3,301.8L118.6,306.9L125.3,311.9L130.4,312.7L133.7,316.9L143.8,314.4L147.1,311.0L157.2,315.2L168.9,313.6L172.2,312.7L180.6,315.2L186.8,318.5L195.0,321.9L199.3,318.5L208.5,313.5L209.5,320.0L208.5,330.0L210.0,341.7L216.8,350.0L221.8,356.8L230.2,351.8L233.5,351.8L241.9,358.5L251.0,357.6L251.9,368.5L262.0,373.6L267.0,376.9L277.0,373.6L280.4,366.9L283.8,361.8L287.0,372.0L290.4,381.0L296.3,377.0L298.8,366.9L306.4,355.0L317.3,351.8L324.0,348.4L323.6,340.0L322.8,325.3L320.3,308.5L322.0,301.8L321.1,300.2L317.0,306.0L310.2,306.9L305.2,311.9L303.5,311.9L298.5,305.0L293.5,301.0L285.0,300.0L284.3,298.5L283.5,291.8L281.8,280.0L272.6,275.0L268.9,272.0L268.9,266.9L277.3,265.2L283.0,265.0L287.3,261.9L290.6,251.8L291.9,246.0L291.5,240.0L295.3,236.0L305.3,231.0L304.5,225.0L304.5,216.8L304.5,205.0L304.5,199.5L309.5,200.0L316.0,202.5L321.0,202.0L322.9,205.0L327.1,215.0L332.1,221.8L339.7,220.0L346.4,217.0L349.7,212.0L354.8,208.6L356.5,204.4L351.4,193.6L352.3,183.5L349.7,182.7L346.4,184.3L338.0,177.6L331.3,173.5L333.0,169.3L332.2,165.0L321.3,160.9L311.2,163.4L307.9,165.0L296.0,161.7L296.5,157.0L293.1,148.6L283.9,147.7L284.7,143.6L280.6,137.7L270.5,136.0L261.3,139.4L263.8,133.5L263.8,128.5L270.0,116.0L270.5,111.7L273.9,113.4L282.7,107.5L285.6,106.7L288.6,102.0L290.3,92.0L292.8,92.0L297.8,85.2L302.0,84.4L306.2,81.0L310.4,78.5L316.3,75.2L323.8,67.6L325.5,61.0L324.6,60.1L319.6,65.1L311.2,66.8L304.9,71.0L302.0,73.5L295.3,77.7L291.0,83.5L289.5,82.0L291.0,68.5L294.5,61.8L293.6,56.8L287.0,61.8L284.4,55.9L278.6,54.2L273.5,56.8L273.0,62.6L270.0,61.0L266.3,59.3L258.8,61.0L252.0,59.0L245.4,56.8L238.7,51.7L232.0,51.0L225.3,50.0L220.3,45.9L214.0,44.8Z" fill="none" stroke="#5a3518" stroke-opacity=".8" stroke-width=".8" stroke-linejoin="round"/>
</g>
<g class="lab">
<text x="211.0" y="64.5">林州</text>
<text x="245.4" y="76.2">汤阴</text>
<text x="261.3" y="72.9">内黄</text>
<text x="257.0" y="99.7">滑县</text>
<text x="230.3" y="87.1">淇县</text>
<text x="249.6" y="87.1">浚县</text>
<text x="281.4" y="63.7">南乐</text>
<text x="277.2" y="77.9">清丰</text>
<text x="276.4" y="95.5">濮阳</text>
<text x="299.0" y="81.9">范县</text>
<text x="314.0" y="72.9">台前</text>
<text x="202.7" y="100.5">辉县</text>
<text x="224.4" y="105.5">卫辉</text>
<text x="206.0" y="125.4">获嘉</text>
<text x="229.5" y="118.7">延津</text>
<text x="252.0" y="126.2">长垣</text>
<text x="220.3" y="133.7">原阳</text>
<text x="242.0" y="134.6">封丘</text>
<text x="188.4" y="114.5">修武</text>
<text x="188.4" y="132.1">武陟</text>
<text x="177.3" y="126.9">博爱</text>
<text x="165.6" y="127.0">沁阳</text>
<text x="158.9" y="142.9">孟州</text>
<text x="174.8" y="140.4">温县</text>
<text x="141.3" y="127.0">济源</text>
<text x="205.2" y="151.3">荥阳</text>
<text x="222.0" y="156.3">中牟</text>
<text x="174.8" y="153.9">巩义</text>
<text x="175.0" y="174.5">登封</text>
<text x="193.5" y="168.6">新密</text>
<text x="210.3" y="172.8">新郑</text>
<text x="248.7" y="155.5">开封</text>
<text x="268.8" y="145.5">兰考</text>
<text x="258.8" y="167.5">杞县</text>
<text x="245.4" y="173.6">通许</text>
<text x="227.0" y="177.8">尉氏</text>
<text x="280.6" y="155.5">民权</text>
<text x="275.6" y="175.3">睢县</text>
<text x="288.0" y="173.9">宁陵</text>
<text x="314.6" y="177.9">虞城</text>
<text x="330.5" y="189.6">夏邑</text>
<text x="337.2" y="209.7">永城</text>
<text x="288.5" y="192.4">柘城</text>
<text x="158.9" y="155.5">偃师</text>
<text x="141.3" y="151.3">孟津</text>
<text x="124.5" y="146.3">新安</text>
<text x="117.0" y="169.4">宜阳</text>
<text x="143.9" y="175.3">伊川</text>
<text x="93.6" y="177.8">洛宁</text>
<text x="95.3" y="203.8">栾川</text>
<text x="122.0" y="192.9">嵩县</text>
<text x="143.9" y="192.1">汝阳</text>
<text x="107.8" y="144.6">渑池</text>
<text x="87.0" y="153.7">陕州</text>
<text x="60.9" y="166.7">灵宝</text>
<text x="67.6" y="199.6">卢氏</text>
<text x="158.0" y="192.9">汝州</text>
<text x="153.9" y="222.2">鲁山</text>
<text x="181.8" y="202.9">郏县</text>
<text x="167.5" y="208.9">宝丰</text>
<text x="190.0" y="231.9">叶县</text>
<text x="196.8" y="252.9">舞钢</text>
<text x="186.8" y="191.2">禹州</text>
<text x="211.0" y="188.7">长葛</text>
<text x="230.3" y="199.6">鄢陵</text>
<text x="199.4" y="216.3">襄城</text>
<text x="218.6" y="216.3">临颍</text>
<text x="207.0" y="234.5">舞阳</text>
<text x="243.7" y="202.1">扶沟</text>
<text x="260.5" y="195.4">太康</text>
<text x="242.0" y="219.7">西华</text>
<text x="264.7" y="223.9">淮阳</text>
<text x="287.0" y="213.9">鹿邑</text>
<text x="281.5" y="228.7">郸城</text>
<text x="242.0" y="236.1">商水</text>
<text x="267.4" y="247.0">项城</text>
<text x="283.8" y="247.0">沈丘</text>
<text x="219.5" y="246.9">西平</text>
<text x="241.2" y="250.4">上蔡</text>
<text x="212.0" y="263.8">遂平</text>
<text x="234.5" y="273.9">汝南</text>
<text x="253.8" y="270.5">平舆</text>
<text x="267.5" y="289.9">新蔡</text>
<text x="217.0" y="288.7">确山</text>
<text x="242.9" y="301.2">正阳</text>
<text x="188.5" y="275.5">泌阳</text>
<text x="172.5" y="248.9">方城</text>
<text x="141.3" y="239.5">南召</text>
<text x="126.2" y="269.6">内乡</text>
<text x="146.3" y="269.6">镇平</text>
<text x="167.0" y="270.5">社旗</text>
<text x="87.7" y="230.3">西峡</text>
<text x="82.7" y="261.3">淅川</text>
<text x="118.6" y="293.7">邓州</text>
<text x="140.4" y="305.4">新野</text>
<text x="162.2" y="294.5">唐河</text>
<text x="190.0" y="310.9">桐柏</text>
<text x="266.5" y="311.6">息县</text>
<text x="285.8" y="309.9">淮滨</text>
<text x="248.7" y="329.6">罗山</text>
<text x="280.8" y="333.9">潢川</text>
<text x="258.7" y="343.2">光山</text>
<text x="308.6" y="329.7">固始</text>
<text x="291.3" y="352.9">商城</text>
<text x="265.3" y="366.2">新县</text>
</g>
</g>
<g id="mapR" style="filter:blur(.45px)" transform="translate(400,6.64) scale(1,0.981)">
<g filter="url(#wv)">
<g stroke="#fff" stroke-opacity=".6" stroke-width=".5" stroke-linejoin="round">
<path d="M223.7,48.7L220.3,45.9L214.0,44.8L208.9,44.2L206.0,50.0L204.3,61.8L204.3,73.5L205.2,80.9L212.3,93.9L214.4,94.6L220.2,92.0L221.6,86.6L225.1,82.5L223.6,74.5L224.2,68.1L219.7,61.3L220.2,56.7L221.3,55.5Z" fill="#9A0A8C"/>
<path d="M238.7,51.7L232.0,51.0L225.3,50.0L223.7,48.7L221.3,55.5L220.2,56.7L219.7,61.3L224.2,68.1L236.0,66.4L237.3,69.2L245.1,69.9L247.7,68.7L255.6,71.0L256.2,70.5L257.7,60.7L252.0,59.0L245.4,56.8Z" fill="#7C08A8"/>
<path d="M255.6,71.0L247.7,68.7L245.1,69.9L237.3,69.2L235.9,73.4L236.6,79.6L241.6,81.6L246.8,80.1L249.5,80.8L255.3,78.7Z" fill="#9A0A8C"/>
<path d="M271.7,65.2L270.4,61.2L266.3,59.3L258.8,61.0L257.7,60.7L256.2,70.5L255.6,71.0L255.3,78.7L256.3,79.5L258.8,90.9L265.1,93.6L271.7,82.8L269.4,79.5L268.7,70.5Z" fill="#7C08A8"/>
<path d="M270.4,112.3L270.5,111.7L270.7,111.8L268.9,98.4L265.4,94.6L265.1,93.6L258.8,90.9L249.5,93.2L248.0,94.5L246.8,94.8L239.9,103.9L240.8,109.7L245.5,113.5L245.8,114.1L253.9,115.3L263.0,111.3Z" fill="#7C08A8"/>
<path d="M223.6,74.5L225.1,82.5L233.4,82.5L236.6,79.6L235.9,73.4L237.3,69.2L236.0,66.4L224.2,68.1Z" fill="#BE0A5C"/>
<path d="M236.6,79.6L233.4,82.5L234.3,90.2L234.0,90.7L235.4,100.9L239.9,103.9L246.8,94.8L242.8,90.8L241.6,81.6Z" fill="#BE0A5C"/>
<path d="M225.1,82.5L221.6,86.6L220.2,92.0L222.4,93.2L227.9,100.3L235.4,100.9L234.0,90.7L234.3,90.2L233.4,82.5Z" fill="#7C08A8"/>
<path d="M256.3,79.5L255.3,78.7L249.5,80.8L246.8,80.1L241.6,81.6L242.8,90.8L246.8,94.8L248.0,94.5L249.5,93.2L258.8,90.9Z" fill="#9A0A8C"/>
<path d="M284.4,55.9L278.6,54.2L273.5,56.8L273.0,62.6L270.4,61.2L271.7,65.2L281.7,68.1L283.0,67.8L290.8,70.5L291.0,68.5L294.5,61.8L293.6,56.8L287.0,61.8Z" fill="#7C08A8"/>
<path d="M271.7,65.2L268.7,70.5L269.4,79.5L271.7,82.8L278.0,83.1L283.1,86.0L286.6,86.4L289.6,81.5L290.8,70.5L283.0,67.8L281.7,68.1Z" fill="#BE0A5C"/>
<path d="M271.7,82.8L265.1,93.6L265.4,94.6L268.9,98.4L270.7,111.8L273.9,113.4L282.7,107.5L285.6,106.7L288.6,102.0L290.3,92.0L291.1,92.0L286.6,86.4L283.1,86.0L278.0,83.1Z" fill="#9A0A8C"/>
<path d="M302.0,73.5L295.3,77.7L291.0,83.5L289.5,82.0L289.6,81.5L286.6,86.4L291.1,92.0L292.8,92.0L297.8,85.2L302.0,84.4L306.2,81.0L308.6,79.6L303.6,72.1Z" fill="#BE0A5C"/>
<path d="M323.8,67.6L325.5,61.0L324.6,60.1L319.6,65.1L311.2,66.8L304.9,71.0L303.6,72.1L308.6,79.6L316.3,75.2Z" fill="#6A0692"/>
<path d="M205.2,80.9L202.7,81.9L197.6,95.3L191.8,105.3L189.9,105.9L202.1,112.1L203.1,111.4L209.2,112.4L215.4,108.2L214.4,94.6L212.3,93.9Z" fill="#9A0A8C"/>
<path d="M220.2,92.0L214.4,94.6L215.4,108.2L222.9,110.5L238.8,110.5L240.8,109.7L239.9,103.9L235.4,100.9L227.9,100.3L222.4,93.2Z" fill="#BE0A5C"/>
<path d="M224.8,122.7L222.8,110.4L215.4,108.2L209.2,112.4L210.4,116.3L222.1,123.8L224.3,123.1Z" fill="#DE0A3A"/>
<path d="M210.4,116.3L209.0,124.8L210.6,128.2L216.8,128.2L222.1,123.8Z" fill="#7C08A8"/>
<path d="M209.2,112.4L203.1,111.4L202.1,112.1L195.3,119.5L194.4,121.5L194.9,122.4L195.0,123.3L203.9,136.5L204.8,136.5L210.6,128.2L209.0,124.8L210.4,116.3Z" fill="#9A0A8C"/>
<path d="M222.9,110.5L224.8,122.7L228.5,122.9L234.5,126.8L243.2,123.6L245.1,120.4L245.8,114.1L245.5,113.5L240.8,109.7L238.8,110.5Z" fill="#BE0A5C"/>
<path d="M263.8,128.5L270.0,116.0L270.4,112.3L263.0,111.3L253.9,115.3L245.8,114.1L245.1,120.4L243.2,123.6L245.3,130.4L259.8,134.6L262.1,131.8L263.8,130.6Z" fill="#9A0A8C"/>
<path d="M216.8,128.2L210.6,128.2L204.8,136.5L214.5,143.8L220.0,141.0L226.9,141.0L231.0,142.5L234.5,140.5L234.5,126.8L228.5,122.9L224.8,122.7L224.3,123.1L222.1,123.8Z" fill="#DE0A3A"/>
<path d="M234.5,126.8L234.5,140.5L240.2,140.5L246.4,143.8L248.3,143.6L257.7,139.8L259.8,134.6L245.3,130.4L243.2,123.6Z" fill="#9A0A8C"/>
<path d="M189.9,105.9L181.7,108.7L178.2,111.1L185.8,121.5L194.4,121.5L195.3,119.5L202.1,112.1Z" fill="#7C08A8"/>
<path d="M188.9,137.5L197.8,141.2L203.9,136.5L195.0,123.3L194.9,122.4L194.4,121.5L185.8,121.5L184.1,123.6L182.1,133.3L188.2,137.6Z" fill="#7C08A8"/>
<path d="M185.8,121.5L178.2,111.1L172.0,115.0L168.5,118.5L172.2,125.3L171.6,131.9L179.3,134.1L182.1,133.3L184.1,123.6Z" fill="#FA220F"/>
<path d="M168.0,134.7L171.6,131.9L172.2,125.3L168.5,118.5L168.0,119.0L162.0,121.0L159.0,123.4L159.0,132.2L163.2,134.3Z" fill="#DE0A3A"/>
<path d="M159.0,132.2L153.2,135.2L150.1,141.3L154.9,147.2L161.0,147.7L165.8,150.5L168.7,149.6L172.2,146.5L168.0,134.7L163.2,134.3Z" fill="#FF7F08"/>
<path d="M171.6,131.9L168.0,134.7L172.2,146.5L176.3,146.2L182.3,148.3L188.2,137.6L182.1,133.3L179.3,134.1Z" fill="#9A0A8C"/>
<path d="M137.0,118.4L125.4,116.8L124.7,129.3L133.8,134.4L134.5,135.5L135.2,137.7L146.4,142.0L150.1,141.3L153.2,135.2L159.0,132.2L159.0,123.4L158.9,123.5L154.7,118.4L148.8,121.0Z" fill="#FF7F08"/>
<path d="M204.8,136.5L203.9,136.5L197.8,141.2L197.2,149.5L197.8,150.5L197.2,158.6L207.7,163.8L211.2,163.1L212.5,161.2L214.1,154.5L212.9,150.5L214.5,143.8Z" fill="#FFC800"/>
<path d="M197.8,141.2L188.9,137.5L188.2,137.6L182.3,148.3L183.0,149.5L183.0,163.5L192.6,161.8L197.2,158.6L197.8,150.5L197.2,149.5Z" fill="#FF6A0A"/>
<path d="M214.5,143.8L212.9,150.5L214.1,154.5L212.5,161.2L211.2,163.1L218.4,175.3L231.4,163.9L233.3,163.2L233.5,159.5L231.0,154.5L231.0,142.5L226.9,141.0L220.0,141.0Z" fill="#BE0A5C"/>
<path d="M183.0,163.5L183.0,149.5L182.3,148.3L176.3,146.2L172.2,146.5L168.7,149.6L165.8,150.5L162.9,159.2L164.4,166.0L175.8,166.0L178.6,164.4Z" fill="#DE0A3A"/>
<path d="M189.0,179.1L183.0,163.5L178.6,164.4L175.8,166.0L164.4,166.0L159.1,171.7L160.4,178.1L164.9,182.3L172.9,184.1L174.2,182.8Z" fill="#FF9F0A"/>
<path d="M192.6,161.8L183.1,163.6L189.0,179.1L190.4,179.9L197.7,180.3L200.1,176.5L207.7,163.8L197.2,158.6Z" fill="#FF9F0A"/>
<path d="M218.4,175.3L211.2,163.1L207.7,163.8L200.1,176.5L197.7,180.3L199.2,182.8L213.5,184.6L219.4,179.9L218.3,176.5Z" fill="#BE0A5C"/>
<path d="M257.7,139.8L248.3,143.6L246.4,143.8L240.2,140.5L234.5,140.5L231.0,142.5L231.0,154.5L233.5,159.5L233.3,163.2L234.4,164.4L251.0,167.2L251.7,167.0L252.7,159.3L255.0,157.0L264.0,152.5Z" fill="#9A0A8C"/>
<path d="M259.8,134.6L257.7,139.8L264.0,152.5L264.9,152.9L272.5,148.4L280.0,149.7L284.0,147.0L284.7,143.6L280.6,137.7L270.5,136.0L261.3,139.4L263.8,133.5L263.8,130.6L262.1,131.8Z" fill="#9A0A8C"/>
<path d="M251.7,167.0L254.7,176.0L251.6,185.2L252.1,186.0L264.0,187.7L266.7,184.7L267.2,177.2L266.5,176.0L266.5,167.0L269.6,163.0L264.9,152.9L264.0,152.5L255.0,157.0L252.7,159.3Z" fill="#FF9F0A"/>
<path d="M235.9,175.9L241.6,181.6L251.6,185.2L254.7,176.0L251.7,167.0L251.0,167.2L234.4,164.4Z" fill="#9A0A8C"/>
<path d="M231.4,163.9L218.4,175.3L218.3,176.5L219.4,179.9L222.4,181.9L226.1,189.8L228.2,190.1L237.5,195.7L237.6,195.6L241.6,181.6L235.9,175.9L234.4,164.4L233.3,163.2Z" fill="#9A0A8C"/>
<path d="M283.9,147.7L284.0,147.0L280.0,149.7L272.5,148.4L264.9,152.9L269.6,163.0L279.2,164.1L280.0,163.4L283.9,162.6L295.8,164.7L298.7,162.5L296.0,161.7L296.5,157.0L293.1,148.6Z" fill="#7C08A8"/>
<path d="M267.2,177.2L266.7,184.7L279.2,187.2L281.8,184.9L279.6,175.8L281.0,172.8L279.2,164.1L269.6,163.0L266.5,167.0L266.5,176.0Z" fill="#7C08A8"/>
<path d="M281.0,172.8L279.6,175.8L281.8,184.9L289.9,186.0L291.6,185.4L294.9,177.0L293.6,174.2L295.8,164.7L283.9,162.6L280.0,163.4L279.2,164.1Z" fill="#7C08A8"/>
<path d="M293.6,174.2L294.9,177.0L291.6,185.4L296.5,188.5L299.2,200.8L299.7,201.5L304.5,203.3L304.5,199.5L308.0,199.8L308.0,186.8L307.2,186.1L305.1,177.9L310.0,171.2L308.1,164.9L307.9,165.0L298.7,162.5L295.8,164.7Z" fill="#7C08A8"/>
<path d="M321.4,176.4L334.7,175.6L331.3,173.5L333.0,169.3L332.2,165.0L321.3,160.9L311.2,163.4L308.1,164.9L310.0,171.2L305.1,177.9L307.2,186.1L308.0,186.8L308.0,199.8L309.5,200.0L315.7,202.4L321.2,188.4L319.3,185.0Z" fill="#780660"/>
<path d="M321.4,176.4L319.3,185.0L321.2,188.4L315.7,202.4L316.0,202.5L321.0,202.0L322.9,205.0L324.1,207.7L327.6,205.8L332.3,198.5L338.0,197.0L346.5,184.3L346.4,184.3L338.0,177.6L334.7,175.6Z" fill="#7C08A8"/>
<path d="M351.4,193.6L352.3,183.5L349.7,182.7L346.5,184.3L338.0,197.0L332.3,198.5L327.6,205.8L324.1,207.7L327.1,215.0L332.1,221.8L339.7,220.0L346.4,217.0L349.7,212.0L354.8,208.6L356.5,204.4Z" fill="#F00A1A"/>
<path d="M296.5,188.5L291.6,185.4L289.9,186.0L281.8,184.9L279.2,187.2L277.4,199.4L277.8,201.6L279.9,201.7L289.2,207.3L299.7,201.5L299.2,200.8Z" fill="#7C08A8"/>
<path d="M154.9,147.2L151.4,155.9L150.0,157.0L152.5,169.3L159.1,171.7L164.4,166.0L162.9,159.2L165.8,150.5L161.0,147.7Z" fill="#BE0A5C"/>
<path d="M132.3,147.6L135.3,152.8L134.6,157.9L138.0,162.9L138.3,168.1L146.2,171.0L152.5,169.3L150.0,157.0L151.4,155.9L154.9,147.2L150.1,141.3L146.4,142.0L135.2,137.7L131.8,145.0Z" fill="#FA220F"/>
<path d="M135.2,137.7L134.5,135.5L133.8,134.4L124.7,129.3L124.5,131.8L121.8,130.8L116.8,142.7L116.0,143.2L115.5,143.7L115.4,144.3L119.8,152.5L117.4,157.1L118.3,159.2L125.4,158.8L126.5,159.5L134.6,157.9L135.3,152.8L132.3,147.6L131.8,145.0Z" fill="#F00A1A"/>
<path d="M118.3,159.2L115.9,163.9L103.3,166.1L111.1,180.8L118.4,179.7L129.1,187.4L130.5,187.5L133.9,184.1L134.9,171.0L138.3,168.1L138.0,162.9L134.6,157.9L126.5,159.5L125.4,158.8Z" fill="#F00A1A"/>
<path d="M138.3,168.1L134.9,171.0L133.9,184.1L134.4,184.0L149.4,188.3L150.7,185.0L160.4,178.1L159.1,171.7L152.5,169.3L146.2,171.0Z" fill="#BE0A5C"/>
<path d="M78.4,172.7L83.2,185.1L84.8,185.9L89.5,193.4L100.7,196.1L105.8,194.4L107.2,186.6L111.1,180.8L103.3,166.1L102.4,165.5L97.3,165.5L94.8,164.4L80.5,169.2Z" fill="#FF4A0A"/>
<path d="M84.6,213.4L85.3,213.8L88.7,218.3L97.0,221.9L104.1,219.8L113.1,226.1L118.4,221.2L119.7,218.1L114.2,203.8L114.3,203.1L113.4,201.1L105.8,194.4L100.7,196.1L89.5,193.4L83.1,204.5L83.5,211.7Z" fill="#FFE600"/>
<path d="M111.1,180.8L107.2,186.6L105.8,194.4L113.4,201.1L114.3,203.1L114.2,203.8L119.7,218.1L118.4,221.2L130.3,228.0L134.4,217.0L131.8,214.1L132.3,205.2L132.0,204.6L133.9,194.8L130.5,187.5L129.1,187.4L118.4,179.7Z" fill="#D2E614"/>
<path d="M130.5,187.5L133.9,194.8L132.0,204.6L132.3,205.2L131.8,214.1L134.4,217.0L136.0,217.4L145.4,215.7L146.9,206.6L150.6,203.2L150.3,196.3L150.4,196.0L149.4,188.3L134.4,184.0L133.9,184.1Z" fill="#FF9F0A"/>
<path d="M121.8,130.8L119.5,130.0L112.8,130.0L106.0,136.0L100.3,143.6L99.8,143.7L105.7,153.3L105.5,158.0L102.4,165.5L103.3,166.1L115.9,163.9L118.3,159.2L117.4,157.1L114.6,155.3L113.3,148.5L115.4,144.3L115.5,143.7L116.0,143.2L116.8,142.7Z" fill="#FFE600"/>
<path d="M119.8,152.5L115.4,144.3L113.3,148.5L114.6,155.3L117.4,157.1Z" fill="#FF7F08"/>
<path d="M97.3,165.5L102.4,165.5L105.5,158.0L105.7,153.3L99.8,143.7L90.2,145.7L87.0,153.7L81.2,153.3L78.0,148.8L68.4,152.0L66.7,155.3L77.7,162.6L80.5,169.2L94.8,164.4Z" fill="#FFE600"/>
<path d="M81.2,153.3L87.0,153.7L90.2,145.7L88.5,146.0L78.0,148.8Z" fill="#92D52C"/>
<path d="M80.5,169.2L77.7,162.6L66.7,155.3L57.5,157.0L50.0,158.6L42.0,159.3L39.0,160.5L39.0,168.0L40.5,176.7L41.7,180.0L50.0,188.5L48.1,193.6L61.5,181.4L62.8,181.7L77.7,172.8L78.4,172.7Z" fill="#FFB90A"/>
<path d="M62.8,181.7L61.5,181.4L48.1,193.6L47.5,195.2L51.7,208.6L56.7,217.0L61.8,227.0L68.4,231.7L68.1,236.3L75.3,231.0L76.5,221.5L84.6,213.4L83.5,211.7L83.1,204.5L89.5,193.4L84.8,185.9L83.2,185.1L78.4,172.7L77.7,172.8Z" fill="#D2E614"/>
<path d="M150.4,196.0L150.3,196.3L150.6,203.2L154.1,205.4L168.5,200.9L168.6,200.8L168.6,200.2L174.6,189.9L172.9,184.1L164.9,182.3L160.4,178.1L150.7,185.0L149.4,188.3Z" fill="#BE0A5C"/>
<path d="M170.4,214.7L164.3,210.7L158.8,212.6L154.1,205.4L150.6,203.2L146.9,206.6L145.4,215.7L136.0,217.4L134.4,217.0L130.3,228.0L130.8,229.3L136.7,232.5L142.2,230.0L149.5,230.0L162.6,236.1L167.5,229.5L169.0,229.5L178.6,234.3L182.3,225.9L181.9,225.1L177.8,222.5L176.1,218.8L170.9,217.0Z" fill="#FFB90A"/>
<path d="M185.2,195.5L174.6,189.9L168.6,200.2L168.6,200.8L174.8,205.3L175.1,206.0L181.1,210.9L181.3,212.8L187.1,217.3L193.0,216.7L193.0,205.4L190.7,204.0L187.0,197.5L185.9,196.8Z" fill="#FA220F"/>
<path d="M158.8,212.6L164.3,210.7L170.4,214.7L170.9,217.0L176.1,218.8L181.3,212.8L181.1,210.9L175.1,206.0L174.8,205.3L168.6,200.8L154.1,205.4Z" fill="#FF4A0A"/>
<path d="M177.8,222.5L181.9,225.1L182.3,225.9L192.4,229.1L195.4,228.1L193.1,216.8L193.0,216.7L187.1,217.3L181.3,212.8L176.1,218.8Z" fill="#FA220F"/>
<path d="M182.3,225.9L178.6,234.3L180.0,238.9L180.0,249.6L186.7,255.6L194.3,245.2L196.7,244.6L198.8,234.2L196.9,228.7L195.4,228.1L192.4,229.1Z" fill="#BE0A5C"/>
<path d="M186.7,255.6L187.2,259.3L189.6,260.6L199.5,261.2L205.9,253.4L203.5,247.5L196.7,244.6L194.3,245.2Z" fill="#FA220F"/>
<path d="M172.9,184.1L174.6,189.9L185.2,195.5L185.9,196.8L187.0,197.5L190.7,204.0L193.0,205.4L200.4,203.9L203.5,194.5L200.1,190.0L199.2,182.8L197.7,180.3L190.4,179.9L189.0,179.1L174.2,182.8Z" fill="#9A0A8C"/>
<path d="M226.1,189.8L222.4,181.9L219.4,179.9L213.5,184.6L199.2,182.8L200.1,190.0L203.5,194.5L211.3,194.5L212.8,195.7L223.4,194.2Z" fill="#BE0A5C"/>
<path d="M212.8,195.7L211.3,194.5L203.5,194.5L200.4,203.9L202.7,205.8L204.7,215.4L208.0,218.2L215.1,206.6L213.7,205.2Z" fill="#BE0A5C"/>
<path d="M213.7,205.2L215.1,206.6L220.5,207.9L222.5,207.5L225.0,203.5L223.4,194.2L212.8,195.7Z" fill="#BE0A5C"/>
<path d="M223.4,194.2L225.0,203.5L222.5,207.5L227.4,213.0L226.4,222.3L234.4,225.4L235.7,224.7L238.2,212.1L238.0,211.8L238.0,204.8L236.5,202.4L237.5,195.7L228.2,190.1L226.1,189.8Z" fill="#9A0A8C"/>
<path d="M193.0,205.4L193.0,216.7L195.4,228.1L196.9,228.7L209.7,223.7L210.0,223.2L208.0,218.2L204.7,215.4L202.7,205.8L200.4,203.9Z" fill="#9A0A8C"/>
<path d="M215.1,206.6L208.0,218.2L210.0,223.2L216.5,222.0L222.5,223.7L226.4,222.3L227.4,213.0L222.5,207.5L220.5,207.9Z" fill="#9A0A8C"/>
<path d="M212.9,237.8L209.7,223.7L196.9,228.7L198.7,234.3L196.7,244.6L203.5,247.5L211.5,238.5Z" fill="#BE0A5C"/>
<path d="M226.4,222.3L222.5,223.7L216.5,222.0L210.0,223.2L209.7,223.7L212.9,237.8L215.4,238.6L216.3,239.7L222.9,241.0L232.8,237.3L232.6,236.6L234.4,225.4Z" fill="#9A0A8C"/>
<path d="M237.6,195.6L237.5,195.7L236.5,202.4L238.0,204.8L238.0,211.8L238.2,212.1L245.0,213.9L254.8,208.4L253.3,202.9L253.3,202.5L249.9,194.4L252.1,186.0L251.6,185.2L241.6,181.6Z" fill="#7C08A8"/>
<path d="M266.7,184.7L264.0,187.7L252.1,186.0L249.9,194.4L253.3,202.5L253.3,202.9L254.8,208.4L257.5,210.9L272.4,209.9L274.0,205.6L277.8,201.6L277.4,199.4L279.2,187.2Z" fill="#780660"/>
<path d="M257.5,210.9L254.8,208.4L245.0,213.9L238.2,212.1L235.7,224.7L247.1,226.4L248.0,226.0L254.1,226.0L256.5,224.1Z" fill="#7C08A8"/>
<path d="M272.4,209.9L257.5,210.9L256.5,224.1L254.1,226.0L255.6,231.7L264.4,239.1L269.8,237.1L273.6,237.3L275.4,232.7L273.4,220.0L274.9,217.0Z" fill="#7C08A8"/>
<path d="M289.2,207.3L279.9,201.7L277.8,201.6L274.0,205.6L272.4,209.9L274.9,217.0L287.9,219.6L289.0,219.0L295.5,222.2L304.5,221.5L304.5,203.3L299.7,201.5Z" fill="#7C08A8"/>
<path d="M275.4,232.7L273.6,237.3L275.0,239.3L277.5,239.5L291.0,235.0L294.6,236.8L295.3,236.0L305.3,231.0L304.5,225.0L304.5,221.5L295.5,222.2L289.0,219.0L287.9,219.6L274.9,217.0L273.4,220.0Z" fill="#7C08A8"/>
<path d="M235.4,240.1L242.8,240.9L243.8,241.8L250.8,242.7L256.8,247.2L257.7,247.4L264.4,239.1L255.6,231.7L254.1,226.0L248.0,226.0L247.1,226.4L235.7,224.7L234.4,225.4L232.6,236.6L232.8,237.3Z" fill="#780660"/>
<path d="M275.0,239.3L273.6,237.3L269.8,237.1L264.4,239.1L257.7,247.4L260.0,250.3L260.0,258.1L257.1,262.2L258.8,267.3L268.2,272.5L268.9,271.9L268.9,266.9L275.0,265.7L273.5,261.9L273.5,251.7L275.0,249.6Z" fill="#9A0A8C"/>
<path d="M291.9,246.0L291.5,240.0L294.6,236.8L291.0,235.0L277.5,239.5L275.0,239.3L275.0,249.6L273.5,251.7L273.5,261.9L275.0,265.7L277.3,265.2L283.0,265.0L287.3,261.9L290.6,251.8Z" fill="#7C08A8"/>
<path d="M235.4,240.1L232.8,237.3L222.9,241.0L216.3,239.7L215.4,238.6L212.9,237.8L211.5,238.5L203.5,247.5L205.9,253.4L213.0,255.3L217.7,253.4L228.4,256.1L228.6,255.2Z" fill="#BE0A5C"/>
<path d="M242.0,259.0L243.5,260.0L244.1,259.9L257.1,262.2L260.0,258.1L260.0,250.3L257.7,247.4L256.8,247.2L250.8,242.7L243.8,241.8L242.8,240.9L235.4,240.1L228.6,255.2L228.4,256.1L229.4,257.7Z" fill="#9A0A8C"/>
<path d="M205.9,253.4L199.5,261.2L205.0,270.6L203.8,277.7L218.4,279.8L220.5,278.7L227.1,279.5L230.8,273.6L228.6,260.3L229.4,257.7L228.4,256.1L217.7,253.4L213.0,255.3Z" fill="#DE0A3A"/>
<path d="M229.4,257.7L228.6,260.3L230.8,273.6L227.1,279.5L229.7,283.4L230.3,291.5L232.9,294.9L247.1,289.2L247.3,288.5L244.6,281.7L245.9,274.5L244.3,272.2L243.5,260.0L242.0,259.0Z" fill="#9A0A8C"/>
<path d="M245.9,274.5L244.6,281.7L247.3,288.5L257.2,285.8L259.2,283.8L259.9,280.7L267.9,274.3L268.2,272.5L258.8,267.3L257.1,262.2L244.1,259.9L243.5,260.0L244.3,272.2Z" fill="#BE0A5C"/>
<path d="M272.6,275.0L268.9,272.0L268.9,271.9L268.2,272.5L267.9,274.3L259.9,280.7L259.2,283.8L257.2,285.8L261.0,297.0L265.2,297.0L269.2,299.5L273.6,299.5L276.3,301.0L284.2,297.7L283.5,291.8L281.8,280.0Z" fill="#DE0A3A"/>
<path d="M229.7,283.4L227.1,279.5L220.5,278.7L218.4,279.8L203.8,277.7L201.8,279.6L201.2,283.0L206.0,294.1L212.8,297.2L214.6,302.9L220.7,304.6L229.3,316.1L233.6,315.3L236.6,304.0L233.1,298.5L232.9,294.9L230.3,291.5Z" fill="#DE0A3A"/>
<path d="M232.9,294.9L233.1,298.5L236.6,304.0L233.6,315.3L239.0,319.0L253.3,316.4L254.7,313.9L254.4,312.9L256.6,299.2L261.0,297.0L257.2,285.8L247.3,288.5L247.1,289.2Z" fill="#DE0A3A"/>
<path d="M203.8,277.7L205.0,270.6L199.5,261.2L189.6,260.6L187.2,259.3L182.5,263.1L182.5,277.7L180.8,279.8L180.3,281.0L178.0,283.0L178.0,298.0L184.8,300.2L188.0,299.6L191.4,301.2L197.3,300.5L206.0,294.1L201.2,283.0L201.8,279.6Z" fill="#6A0692"/>
<path d="M180.0,238.9L178.6,234.3L169.0,229.5L167.5,229.5L162.6,236.1L163.5,240.5L151.3,251.5L156.9,259.4L157.0,260.0L159.0,262.7L172.0,264.8L173.7,263.7L182.5,263.1L187.2,259.3L186.7,255.6L180.0,249.6Z" fill="#7C08A8"/>
<path d="M118.4,221.2L113.1,226.1L113.1,227.4L120.1,238.4L120.7,244.0L123.2,247.5L128.1,247.9L137.6,256.0L150.5,251.2L151.3,251.5L163.5,240.5L162.6,236.1L149.5,230.0L142.2,230.0L136.7,232.5L130.8,229.3L130.3,228.0Z" fill="#DE0A3A"/>
<path d="M101.7,243.0L102.8,244.0L104.7,255.3L99.2,260.8L100.2,264.7L96.5,272.0L100.3,279.6L105.0,280.7L109.0,278.4L120.2,280.0L121.4,279.5L118.7,263.3L118.2,262.7L117.6,257.4L123.2,247.5L120.7,244.0L120.1,238.4L113.1,227.4L100.4,237.5Z" fill="#BE0A5C"/>
<path d="M117.6,257.4L118.2,262.7L118.7,263.3L121.4,279.5L125.9,280.4L133.4,284.6L138.7,279.3L140.1,268.5L136.7,263.8L137.6,256.0L128.1,247.9L123.2,247.5Z" fill="#BE0A5C"/>
<path d="M156.7,278.4L159.0,275.5L159.0,262.7L157.0,260.0L156.9,259.4L151.3,251.5L150.5,251.2L137.6,256.0L136.7,263.8L140.1,268.5L138.7,279.3L133.4,284.6L133.8,286.9L149.2,295.9L150.6,295.5L153.1,280.5L155.1,279.0Z" fill="#7C08A8"/>
<path d="M159.0,275.5L156.7,278.4L164.6,287.5L166.0,287.5L172.8,283.0L178.0,283.0L180.3,281.0L180.8,279.8L182.5,277.7L182.5,263.1L173.7,263.7L172.0,264.8L159.0,262.7Z" fill="#7C08A8"/>
<path d="M113.1,227.4L113.1,226.1L104.1,219.8L97.0,221.9L88.7,218.3L85.3,213.8L84.6,213.4L76.5,221.5L75.3,231.0L68.1,236.3L67.8,242.1L83.8,246.7L85.9,250.1L88.2,251.1L92.0,257.7L99.2,260.8L104.7,255.3L102.8,244.0L101.7,243.0L100.4,237.5Z" fill="#FF4A0A"/>
<path d="M67.8,242.1L67.6,245.0L71.8,258.5L76.8,267.0L80.2,275.0L88.5,287.0L95.2,295.0L101.2,296.9L106.4,289.5L105.0,280.7L100.3,279.6L96.5,272.0L100.2,264.7L99.2,260.8L92.0,257.7L88.2,251.1L85.9,250.1L83.8,246.7Z" fill="#DE0A3A"/>
<path d="M105.0,280.7L106.4,289.5L101.2,296.9L110.3,301.8L118.6,306.9L125.3,311.9L130.4,312.7L130.9,313.3L134.6,303.0L130.1,294.8L133.8,286.9L133.4,284.6L125.9,280.4L121.4,279.5L120.2,280.0L109.0,278.4Z" fill="#7C08A8"/>
<path d="M130.1,294.8L134.6,303.0L130.9,313.3L133.7,316.9L143.8,314.4L146.3,311.9L144.9,303.0L149.2,295.9L133.8,286.9Z" fill="#9A0A8C"/>
<path d="M156.7,278.4L155.1,279.0L153.1,280.5L150.6,295.5L149.2,295.9L144.9,303.0L146.3,311.9L147.1,311.0L157.2,315.2L167.3,313.8L169.7,303.0L173.9,299.4L178.0,298.0L178.0,283.0L172.8,283.0L166.0,287.5L164.6,287.5Z" fill="#9A0A8C"/>
<path d="M208.7,314.6L214.6,302.9L212.8,297.2L206.0,294.1L197.3,300.5L191.4,301.2L188.0,299.6L184.8,300.2L178.0,298.0L173.9,299.4L169.7,303.0L167.3,313.8L168.9,313.6L172.2,312.7L180.6,315.2L186.8,318.5L195.0,321.9L199.3,318.5L208.5,313.5Z" fill="#F00A1A"/>
<path d="M261.0,297.0L256.6,299.2L254.4,312.9L254.7,313.9L253.3,316.4L255.7,327.0L257.0,328.1L269.3,329.9L271.2,323.2L280.8,315.6L278.2,312.0L276.3,301.0L273.6,299.5L269.2,299.5L265.2,297.0Z" fill="#DE0A3A"/>
<path d="M280.8,315.6L283.1,316.3L287.7,320.3L289.4,323.7L295.8,328.7L300.0,328.0L301.0,327.0L304.0,311.9L303.5,311.9L298.5,305.0L293.5,301.0L285.0,300.0L284.3,298.5L284.2,297.7L276.3,301.0L278.2,312.0Z" fill="#F00A1A"/>
<path d="M208.7,314.6L209.5,320.0L208.5,330.0L210.0,341.7L216.8,350.0L221.8,356.8L230.2,351.8L232.0,351.8L232.2,350.6L237.6,343.5L236.2,333.8L239.0,331.0L239.0,319.0L233.6,315.3L229.3,316.1L220.7,304.6L214.6,302.9Z" fill="#FF9F0A"/>
<path d="M239.0,331.0L236.2,333.8L237.6,343.5L232.2,350.6L232.0,351.8L233.5,351.8L241.9,358.5L249.2,357.8L249.7,356.9L251.2,345.4L255.7,343.7L257.0,342.2L257.0,328.1L255.7,327.0L253.3,316.4L239.0,319.0Z" fill="#DE0A3A"/>
<path d="M287.7,320.3L283.1,316.3L280.8,315.6L271.2,323.2L269.3,329.9L272.4,334.8L270.9,339.4L271.9,343.8L282.8,352.4L284.2,351.3L287.5,340.8L293.2,336.5L295.8,328.7L289.4,323.7Z" fill="#9A0A8C"/>
<path d="M269.3,329.9L257.0,328.1L257.0,342.2L255.7,343.7L251.2,345.4L249.7,356.9L264.1,355.0L265.0,353.9L272.2,357.3L282.7,352.6L282.8,352.4L271.9,343.8L270.9,339.4L272.4,334.8Z" fill="#FF6A0A"/>
<path d="M322.0,301.8L321.1,300.2L317.0,306.0L310.2,306.9L305.2,311.9L304.0,311.9L301.0,327.0L300.0,328.0L295.8,328.7L293.2,336.5L304.1,353.0L304.6,353.2L306.2,355.3L306.4,355.0L317.3,351.8L324.0,348.4L322.8,325.3L320.3,308.5Z" fill="#DE0A3A"/>
<path d="M293.2,336.5L287.5,340.8L284.2,351.3L282.8,352.4L282.7,352.6L284.7,363.4L284.5,363.9L287.0,372.0L290.4,381.0L296.3,377.0L298.8,366.9L306.2,355.3L304.6,353.2L304.1,353.0Z" fill="#FF9F0A"/>
<path d="M264.1,355.0L249.7,356.9L249.2,357.8L251.0,357.6L251.9,368.5L262.0,373.6L267.0,376.9L277.0,373.6L280.4,366.9L283.8,361.8L284.5,363.9L284.7,363.4L282.7,352.6L272.2,357.3L265.0,353.9Z" fill="#FA220F"/>
</g>
<path d="M205.4,81.3L212.3,93.9M212.3,93.9L214.4,94.6M214.4,94.6L220.2,92.0M220.2,92.0L221.6,86.6M221.6,86.6L225.1,82.5M225.1,82.5L223.6,74.5L224.2,68.1M224.2,68.1L236.0,66.4M236.0,66.4L236.0,66.4L237.3,69.2M237.3,69.2L235.9,73.4M235.9,73.4L236.6,79.6M236.6,79.6L241.6,81.6M241.6,81.6L246.8,80.1M246.8,80.1L249.5,80.8M249.5,80.8L255.3,78.7M255.3,78.7L256.3,79.5M256.3,79.5L258.8,90.9M258.8,90.9L249.5,93.2M249.5,93.2L248.0,94.5M248.0,94.5L246.8,94.8M246.8,94.8L239.9,103.9M239.9,103.9L240.8,109.7M240.8,109.7L245.5,113.5M245.5,113.5L245.8,114.1M245.8,114.1L253.9,115.3M253.9,115.3L263.0,111.3M263.0,111.3L270.1,112.3M270.6,111.4L268.9,98.4M268.9,98.4L265.4,94.6M265.4,94.6L265.1,93.6M265.1,93.6L271.7,82.8M271.7,82.8L269.4,79.5M269.4,79.5L268.7,70.5M268.7,70.5L271.7,65.2M271.7,65.2L270.5,61.6M237.3,69.2L236.0,66.4M224.2,68.1L223.6,74.5L225.1,82.5M220.2,92.0L222.4,93.2M222.4,93.2L227.9,100.3M227.9,100.3L235.4,100.9M235.4,100.9L239.9,103.9M241.6,81.6L241.6,81.6L236.6,79.6M190.3,106.1L202.1,112.1M202.1,112.1L195.3,119.5M195.3,119.5L194.4,121.5M194.4,121.5L194.9,122.4M194.9,122.4L195.0,123.3M195.0,123.3L203.9,136.5M203.9,136.5L204.8,136.5M204.8,136.5L214.5,143.8M214.5,143.8L220.0,141.0M220.0,141.0L226.9,141.0M226.9,141.0L231.0,142.5M231.0,142.5L234.5,140.5M234.5,140.5L240.2,140.5M240.2,140.5L246.4,143.8M246.4,143.8L248.3,143.6M248.3,143.6L257.7,139.8M257.7,139.8L259.8,134.6M259.8,134.6L262.1,131.8M262.1,131.8L263.5,130.8M222.8,110.5L223.6,114.8L223.5,114.9L222.8,110.5M159.0,123.8L159.0,132.2M159.0,132.2L153.2,135.2M153.2,135.2L150.1,141.3M150.1,141.3L154.9,147.2M154.9,147.2L161.0,147.7M161.0,147.7L165.8,150.5M165.8,150.5L168.7,149.6M168.7,149.6L172.2,146.5M172.2,146.5L176.3,146.2M176.3,146.2L182.3,148.3M182.3,148.3L188.2,137.6M188.2,137.6L188.9,137.5M188.9,137.5L197.8,141.2M197.8,141.2L203.9,136.5M124.9,129.4L133.8,134.4M133.8,134.4L134.5,135.5M134.5,135.5L135.2,137.7M135.2,137.7L146.4,142.0M146.4,142.0L150.1,141.3M165.8,150.5L162.9,159.2M162.9,159.2L164.4,166.0M164.4,166.0L159.1,171.7M159.1,171.7L160.4,178.1M160.4,178.1L164.9,182.3M164.9,182.3L172.9,184.1M172.9,184.1L174.2,182.8M174.2,182.8L189.0,179.1M189.0,179.1L190.4,179.9M190.4,179.9L197.7,180.3M197.7,180.3L199.2,182.8M199.2,182.8L213.5,184.6M213.5,184.6L219.4,179.9M219.4,179.9L218.3,176.5M218.3,176.5L218.4,175.3M218.4,175.3L231.4,163.9M231.4,163.9L233.3,163.2M233.3,163.2L233.5,159.5M233.5,159.5L231.0,154.5M231.0,154.5L231.0,142.5M183.0,163.5L184.2,163.3L183.1,163.6L184.6,167.4L183.0,163.5M219.4,179.9L222.4,181.9M222.4,181.9L226.1,189.8M226.1,189.8L228.2,190.1M228.2,190.1L237.5,195.7M237.5,195.7L237.6,195.6M237.6,195.6L241.6,181.6M241.6,181.6L251.6,185.2M251.6,185.2L252.1,186.0M252.1,186.0L264.0,187.7M264.0,187.7L266.7,184.7M266.7,184.7L267.2,177.2M267.2,177.2L266.5,176.0M266.5,176.0L266.5,167.0M266.5,167.0L269.6,163.0M269.6,163.0L264.9,152.9M264.9,152.9L272.5,148.4M272.5,148.4L280.0,149.7M280.0,149.7L283.7,147.2M266.7,184.7L279.2,187.2M279.2,187.2L277.4,199.4M277.4,199.4L277.8,201.6M277.8,201.6L279.9,201.7M279.9,201.7L289.2,207.3M289.2,207.3L299.7,201.5L304.2,203.2M121.7,131.1L116.8,142.7M116.8,142.7L116.0,143.2M116.0,143.2L115.5,143.7M115.5,143.7L115.4,144.3M115.4,144.3L119.8,152.5M119.8,152.5L117.4,157.1M117.4,157.1L118.3,159.2M118.3,159.2L115.9,163.9M115.9,163.9L103.3,166.1M103.3,166.1L102.4,165.5M102.4,165.5L97.3,165.5M97.3,165.5L94.8,164.4M94.8,164.4L80.5,169.2M80.5,169.2L78.4,172.7M78.4,172.7L83.2,185.1M83.2,185.1L84.8,185.9M84.8,185.9L89.5,193.4M89.5,193.4L83.1,204.5M83.1,204.5L83.5,211.7M83.5,211.7L84.6,213.4M84.6,213.4L85.3,213.8M85.3,213.8L88.7,218.3M88.7,218.3L97.0,221.9M97.0,221.9L104.1,219.8M104.1,219.8L113.1,226.1M113.1,226.1L118.4,221.2M118.4,221.2L130.3,228.0M130.3,228.0L134.4,217.0M134.4,217.0L136.0,217.4M136.0,217.4L145.4,215.7L146.9,206.6M146.9,206.6L150.6,203.2M150.6,203.2L150.3,196.3M150.3,196.3L150.4,196.0M150.4,196.0L149.4,188.3M149.4,188.3L150.7,185.0M150.7,185.0L160.4,178.1M68.4,236.1L75.3,231.0M75.3,231.0L76.5,221.5M76.5,221.5L84.6,213.4M146.9,206.6L145.4,215.7L136.0,217.4M130.3,228.0L130.8,229.3M130.8,229.3L136.7,232.5M136.7,232.5L142.2,230.0M142.2,230.0L149.5,230.0M149.5,230.0L162.6,236.1M162.6,236.1L167.5,229.5M167.5,229.5L169.0,229.5M169.0,229.5L178.6,234.3M178.6,234.3L180.0,238.9L180.0,249.6M180.0,249.6L186.7,255.6M186.7,255.6L187.2,259.3M187.2,259.3L189.6,260.6M189.6,260.6L199.5,261.2M199.5,261.2L205.9,253.4M205.9,253.4L203.5,247.5M203.5,247.5L196.7,244.6M196.7,244.6L198.8,234.2L196.9,228.7M196.9,228.7L195.4,228.1M195.4,228.1L193.0,216.7M193.0,216.7L193.0,205.4M193.0,205.4L190.7,204.0M190.7,204.0L187.0,197.5M187.0,197.5L185.9,196.8M185.9,196.8L185.2,195.5M185.2,195.5L174.6,189.9M174.6,189.9L172.9,184.1M196.9,228.7L209.7,223.7M209.7,223.7L210.0,223.2M210.0,223.2L208.0,218.2M208.0,218.2L215.1,206.6M215.1,206.6L220.5,207.9M220.5,207.9L222.5,207.5M222.5,207.5L227.4,213.0M227.4,213.0L226.4,222.3M226.4,222.3L234.4,225.4M234.4,225.4L235.7,224.7M235.7,224.7L238.2,212.1M238.2,212.1L238.0,211.8M238.0,211.8L238.0,204.8M238.0,204.8L236.5,202.4M236.5,202.4L237.5,195.7M196.9,228.7L198.7,234.3L196.7,244.6M203.5,247.5L211.5,238.5L212.9,237.8M212.9,237.8L215.4,238.6M215.4,238.6L216.3,239.7M216.3,239.7L222.9,241.0M222.9,241.0L232.8,237.3M232.8,237.3L232.6,236.6M232.6,236.6L234.4,225.4M232.8,237.3L235.4,240.1M235.4,240.1L242.8,240.9M242.8,240.9L243.8,241.8M243.8,241.8L250.8,242.7M250.8,242.7L256.8,247.2M256.8,247.2L257.7,247.4M257.7,247.4L260.0,250.3M260.0,250.3L260.0,258.1M260.0,258.1L257.1,262.2M257.1,262.2L258.8,267.3M258.8,267.3L268.2,272.5M268.2,272.5L268.6,272.1M304.2,203.2L299.7,201.5L289.2,207.3M212.9,237.8L211.5,238.5L203.5,247.5M187.2,259.3L182.5,263.1M182.5,263.1L182.5,277.7M182.5,277.7L180.8,279.8M180.8,279.8L180.3,281.0M180.3,281.0L178.0,283.0M178.0,283.0L178.0,298.0M178.0,298.0L184.8,300.2L188.0,299.6M188.0,299.6L191.4,301.2M191.4,301.2L197.3,300.5M197.3,300.5L206.0,294.1M206.0,294.1L212.8,297.2M212.8,297.2L214.6,302.9M214.6,302.9L220.7,304.6M220.7,304.6L229.3,316.1M229.3,316.1L233.6,315.3M233.6,315.3L239.0,319.0M239.0,319.0L253.3,316.4M253.3,316.4L254.7,313.9M254.7,313.9L254.4,312.9M254.4,312.9L256.6,299.2M256.6,299.2L261.0,297.0M261.0,297.0L265.2,297.0M265.2,297.0L269.2,299.5M269.2,299.5L273.6,299.5M273.6,299.5L276.3,301.0M276.3,301.0L283.9,297.9M208.9,314.2L214.6,302.9L214.6,302.9M188.0,299.6L184.8,300.3L178.0,298.0M180.0,249.6L180.0,238.9L178.6,234.3M162.6,236.1L149.5,230.0L149.5,230.0M214.6,302.9L208.9,314.2" fill="none" stroke="#120618" stroke-opacity=".72" stroke-width=".85"/>
<path d="M208.9,44.2L206.0,50.0L204.3,61.8L204.3,73.5L205.2,81.0L202.7,81.9L197.6,95.3L191.8,105.3L181.7,108.7L177.3,111.7L172.0,115.0L168.0,119.0L162.0,121.0L158.9,123.5L154.7,118.4L148.8,121.0L137.0,118.4L125.4,116.8L124.5,131.8L119.5,130.0L112.8,130.0L106.0,136.0L100.3,143.6L88.5,146.0L78.5,148.6L68.4,152.0L66.8,155.3L57.5,157.0L50.0,158.6L42.0,159.3L39.0,160.5L39.0,168.0L40.5,176.7L41.7,180.0L50.0,188.5L47.5,195.2L51.7,208.6L56.7,217.0L61.8,227.0L68.4,231.7L67.6,245.0L71.8,258.5L76.8,267.0L80.2,275.0L88.5,287.0L95.2,295.0L101.0,296.8L110.3,301.8L118.6,306.9L125.3,311.9L130.4,312.7L133.7,316.9L143.8,314.4L147.1,311.0L157.2,315.2L168.9,313.6L172.2,312.7L180.6,315.2L186.8,318.5L195.0,321.9L199.3,318.5L208.5,313.5L209.5,320.0L208.5,330.0L210.0,341.7L216.8,350.0L221.8,356.8L230.2,351.8L233.5,351.8L241.9,358.5L251.0,357.6L251.9,368.5L262.0,373.6L267.0,376.9L277.0,373.6L280.4,366.9L283.8,361.8L287.0,372.0L290.4,381.0L296.3,377.0L298.8,366.9L306.4,355.0L317.3,351.8L324.0,348.4L323.6,340.0L322.8,325.3L320.3,308.5L322.0,301.8L321.1,300.2L317.0,306.0L310.2,306.9L305.2,311.9L303.5,311.9L298.5,305.0L293.5,301.0L285.0,300.0L284.3,298.5L283.5,291.8L281.8,280.0L272.6,275.0L268.9,272.0L268.9,266.9L277.3,265.2L283.0,265.0L287.3,261.9L290.6,251.8L291.9,246.0L291.5,240.0L295.3,236.0L305.3,231.0L304.5,225.0L304.5,216.8L304.5,205.0L304.5,199.5L309.5,200.0L316.0,202.5L321.0,202.0L322.9,205.0L327.1,215.0L332.1,221.8L339.7,220.0L346.4,217.0L349.7,212.0L354.8,208.6L356.5,204.4L351.4,193.6L352.3,183.5L349.7,182.7L346.4,184.3L338.0,177.6L331.3,173.5L333.0,169.3L332.2,165.0L321.3,160.9L311.2,163.4L307.9,165.0L296.0,161.7L296.5,157.0L293.1,148.6L283.9,147.7L284.7,143.6L280.6,137.7L270.5,136.0L261.3,139.4L263.8,133.5L263.8,128.5L270.0,116.0L270.5,111.7L273.9,113.4L282.7,107.5L285.6,106.7L288.6,102.0L290.3,92.0L292.8,92.0L297.8,85.2L302.0,84.4L306.2,81.0L310.4,78.5L316.3,75.2L323.8,67.6L325.5,61.0L324.6,60.1L319.6,65.1L311.2,66.8L304.9,71.0L302.0,73.5L295.3,77.7L291.0,83.5L289.5,82.0L291.0,68.5L294.5,61.8L293.6,56.8L287.0,61.8L284.4,55.9L278.6,54.2L273.5,56.8L273.0,62.6L270.0,61.0L266.3,59.3L258.8,61.0L252.0,59.0L245.4,56.8L238.7,51.7L232.0,51.0L225.3,50.0L220.3,45.9L214.0,44.8Z" fill="none" stroke="#3a1530" stroke-opacity=".8" stroke-width=".8" stroke-linejoin="round"/>
</g>
<g class="lab">
<text x="211.0" y="64.5">林州</text>
<text x="245.4" y="76.2">汤阴</text>
<text x="261.3" y="72.9">内黄</text>
<text x="257.0" y="99.7">滑县</text>
<text x="230.3" y="87.1">淇县</text>
<text x="249.6" y="87.1">浚县</text>
<text x="281.4" y="63.7">南乐</text>
<text x="277.2" y="77.9">清丰</text>
<text x="276.4" y="95.5">濮阳</text>
<text x="299.0" y="81.9">范县</text>
<text x="314.0" y="72.9">台前</text>
<text x="202.7" y="100.5">辉县</text>
<text x="224.4" y="105.5">卫辉</text>
<text x="206.0" y="125.4">获嘉</text>
<text x="229.5" y="118.7">延津</text>
<text x="252.0" y="126.2">长垣</text>
<text x="220.3" y="133.7">原阳</text>
<text x="242.0" y="134.6">封丘</text>
<text x="188.4" y="114.5">修武</text>
<text x="188.4" y="132.1">武陟</text>
<text x="177.3" y="126.9">博爱</text>
<text x="165.6" y="127.0">沁阳</text>
<text x="158.9" y="142.9">孟州</text>
<text x="174.8" y="140.4">温县</text>
<text x="141.3" y="127.0">济源</text>
<text x="205.2" y="151.3">荥阳</text>
<text x="222.0" y="156.3">中牟</text>
<text x="174.8" y="153.9">巩义</text>
<text x="175.0" y="174.5">登封</text>
<text x="193.5" y="168.6">新密</text>
<text x="210.3" y="172.8">新郑</text>
<text x="248.7" y="155.5">开封</text>
<text x="268.8" y="145.5">兰考</text>
<text x="258.8" y="167.5">杞县</text>
<text x="245.4" y="173.6">通许</text>
<text x="227.0" y="177.8">尉氏</text>
<text x="280.6" y="155.5">民权</text>
<text x="275.6" y="175.3">睢县</text>
<text x="288.0" y="173.9">宁陵</text>
<text x="314.6" y="177.9">虞城</text>
<text x="330.5" y="189.6">夏邑</text>
<text x="337.2" y="209.7">永城</text>
<text x="288.5" y="192.4">柘城</text>
<text x="158.9" y="155.5">偃师</text>
<text x="141.3" y="151.3">孟津</text>
<text x="124.5" y="146.3">新安</text>
<text x="117.0" y="169.4">宜阳</text>
<text x="143.9" y="175.3">伊川</text>
<text x="93.6" y="177.8">洛宁</text>
<text x="95.3" y="203.8">栾川</text>
<text x="122.0" y="192.9">嵩县</text>
<text x="143.9" y="192.1">汝阳</text>
<text x="107.8" y="144.6">渑池</text>
<text x="87.0" y="153.7">陕州</text>
<text x="60.9" y="166.7">灵宝</text>
<text x="67.6" y="199.6">卢氏</text>
<text x="158.0" y="192.9">汝州</text>
<text x="153.9" y="222.2">鲁山</text>
<text x="181.8" y="202.9">郏县</text>
<text x="167.5" y="208.9">宝丰</text>
<text x="190.0" y="231.9">叶县</text>
<text x="196.8" y="252.9">舞钢</text>
<text x="186.8" y="191.2">禹州</text>
<text x="211.0" y="188.7">长葛</text>
<text x="230.3" y="199.6">鄢陵</text>
<text x="199.4" y="216.3">襄城</text>
<text x="218.6" y="216.3">临颍</text>
<text x="207.0" y="234.5">舞阳</text>
<text x="243.7" y="202.1">扶沟</text>
<text x="260.5" y="195.4">太康</text>
<text x="242.0" y="219.7">西华</text>
<text x="264.7" y="223.9">淮阳</text>
<text x="287.0" y="213.9">鹿邑</text>
<text x="281.5" y="228.7">郸城</text>
<text x="242.0" y="236.1">商水</text>
<text x="267.4" y="247.0">项城</text>
<text x="283.8" y="247.0">沈丘</text>
<text x="219.5" y="246.9">西平</text>
<text x="241.2" y="250.4">上蔡</text>
<text x="212.0" y="263.8">遂平</text>
<text x="234.5" y="273.9">汝南</text>
<text x="253.8" y="270.5">平舆</text>
<text x="267.5" y="289.9">新蔡</text>
<text x="217.0" y="288.7">确山</text>
<text x="242.9" y="301.2">正阳</text>
<text x="188.5" y="275.5">泌阳</text>
<text x="172.5" y="248.9">方城</text>
<text x="141.3" y="239.5">南召</text>
<text x="126.2" y="269.6">内乡</text>
<text x="146.3" y="269.6">镇平</text>
<text x="167.0" y="270.5">社旗</text>
<text x="87.7" y="230.3">西峡</text>
<text x="82.7" y="261.3">淅川</text>
<text x="118.6" y="293.7">邓州</text>
<text x="140.4" y="305.4">新野</text>
<text x="162.2" y="294.5">唐河</text>
<text x="190.0" y="310.9">桐柏</text>
<text x="266.5" y="311.6">息县</text>
<text x="285.8" y="309.9">淮滨</text>
<text x="248.7" y="329.6">罗山</text>
<text x="280.8" y="333.9">潢川</text>
<text x="258.7" y="343.2">光山</text>
<text x="308.6" y="329.7">固始</text>
<text x="291.3" y="352.9">商城</text>
<text x="265.3" y="366.2">新县</text>
</g>
</g>
<text class="ttl" x="66.3" y="30.6" textLength="252.5" lengthAdjust="spacing">2020年01月24日20时~2020年01月25日10时PM<tspan font-size="6.5">2.5</tspan>分布图</text>
<text class="ttl" x="467.6" y="35.8" textLength="251.5" lengthAdjust="spacing">2019年02月04日23时~2019年02月05日12时PM<tspan font-size="6.5">2.5</tspan>分布图</text>
<g transform="translate(380,19.3)"><g fill="none" stroke="#3db5a0" stroke-width="1.1" stroke-linecap="round" stroke-linejoin="round"><path d="M4.2,0.5V8.3M0.9,5.2L4.2,8.5L7.5,5.2M0.3,11.2H8.1"/></g></g>
<g transform="translate(780,24.6)"><g fill="none" stroke="#3db5a0" stroke-width="1.1" stroke-linecap="round" stroke-linejoin="round"><path d="M4.2,0.5V8.3M0.9,5.2L4.2,8.5L7.5,5.2M0.3,11.2H8.1"/></g></g>
<text x="21" y="243" class="lt" font-size="8.25">PM<tspan font-size="5.5">2.5</tspan>(μg/m³)</text>
<rect x="20.6" y="253.1" width="7" height="7.2" fill="#92D52C"/>
<text x="34.2" y="259.5" class="lg" font-size="7.85">45-55</text>
<rect x="20.6" y="263.8" width="7" height="7.2" fill="#D2E614"/>
<text x="34.2" y="270.2" class="lg" font-size="7.85">55-65</text>
<rect x="20.6" y="274.6" width="7" height="7.2" fill="#FFE600"/>
<text x="34.2" y="281.0" class="lg" font-size="7.85">65-75</text>
<rect x="20.6" y="285.3" width="7" height="7.2" fill="#FFB90A"/>
<text x="34.2" y="291.7" class="lg" font-size="7.85">75-85</text>
<rect x="20.6" y="296.1" width="7" height="7.2" fill="#FF9F0A"/>
<text x="34.2" y="302.5" class="lg" font-size="7.85">85-95</text>
<rect x="20.6" y="306.8" width="7" height="7.2" fill="#FF7F08"/>
<text x="34.2" y="313.2" class="lg" font-size="7.85">95-105</text>
<rect x="20.6" y="317.5" width="7" height="7.2" fill="#FF6A0A"/>
<text x="34.2" y="323.9" class="lg" font-size="7.85">105-115</text>
<rect x="20.6" y="328.3" width="7" height="7.2" fill="#FF4A0A"/>
<text x="34.2" y="334.7" class="lg" font-size="7.85">115-125</text>
<rect x="20.6" y="339.0" width="7" height="7.2" fill="#FA220F"/>
<text x="34.2" y="345.4" class="lg" font-size="7.85">125-135</text>
<rect x="20.6" y="349.8" width="7" height="7.2" fill="#F00A1A"/>
<text x="34.2" y="356.2" class="lg" font-size="7.85">135-150</text>
<rect x="20.6" y="360.5" width="7" height="7.2" fill="#DE0A3A"/>
<text x="34.2" y="366.9" class="lg" font-size="7.85">150-170</text>
<rect x="20.6" y="371.2" width="7" height="7.2" fill="#BE0A5C"/>
<text x="34.2" y="377.6" class="lg" font-size="7.85">170-200</text>
<rect x="20.6" y="382.0" width="7" height="7.2" fill="#9A0A8C"/>
<text x="34.2" y="388.4" class="lg" font-size="7.85">200-240</text>
<rect x="20.6" y="392.7" width="7" height="7.2" fill="#7C08A8"/>
<text x="34.2" y="399.1" class="lg" font-size="7.85">240-300</text>
<text x="422.6" y="223" class="lt" font-size="8.05">PM<tspan font-size="5.5">2.5</tspan>(μg/m³)</text>
<rect x="422.1" y="233.5" width="7" height="7.2" fill="#92D52C"/>
<text x="435.70000000000005" y="239.9" class="lg" font-size="7.65">45-55</text>
<rect x="422.1" y="244.1" width="7" height="7.2" fill="#D2E614"/>
<text x="435.70000000000005" y="250.5" class="lg" font-size="7.65">55-65</text>
<rect x="422.1" y="254.6" width="7" height="7.2" fill="#FFE600"/>
<text x="435.70000000000005" y="261.0" class="lg" font-size="7.65">65-75</text>
<rect x="422.1" y="265.1" width="7" height="7.2" fill="#FFB90A"/>
<text x="435.70000000000005" y="271.6" class="lg" font-size="7.65">75-85</text>
<rect x="422.1" y="275.7" width="7" height="7.2" fill="#FF9F0A"/>
<text x="435.70000000000005" y="282.1" class="lg" font-size="7.65">85-95</text>
<rect x="422.1" y="286.2" width="7" height="7.2" fill="#FF7F08"/>
<text x="435.70000000000005" y="292.7" class="lg" font-size="7.65">95-105</text>
<rect x="422.1" y="296.8" width="7" height="7.2" fill="#FF6A0A"/>
<text x="435.70000000000005" y="303.2" class="lg" font-size="7.65">105-115</text>
<rect x="422.1" y="307.3" width="7" height="7.2" fill="#FF4A0A"/>
<text x="435.70000000000005" y="313.8" class="lg" font-size="7.65">115-125</text>
<rect x="422.1" y="317.9" width="7" height="7.2" fill="#FA220F"/>
<text x="435.70000000000005" y="324.3" class="lg" font-size="7.65">125-135</text>
<rect x="422.1" y="328.4" width="7" height="7.2" fill="#F00A1A"/>
<text x="435.70000000000005" y="334.9" class="lg" font-size="7.65">135-150</text>
<rect x="422.1" y="339.0" width="7" height="7.2" fill="#DE0A3A"/>
<text x="435.70000000000005" y="345.4" class="lg" font-size="7.65">150-170</text>
<rect x="422.1" y="349.5" width="7" height="7.2" fill="#BE0A5C"/>
<text x="435.70000000000005" y="355.9" class="lg" font-size="7.65">170-200</text>
<rect x="422.1" y="360.1" width="7" height="7.2" fill="#9A0A8C"/>
<text x="435.70000000000005" y="366.5" class="lg" font-size="7.65">200-240</text>
<rect x="422.1" y="370.6" width="7" height="7.2" fill="#7C08A8"/>
<text x="435.70000000000005" y="377.1" class="lg" font-size="7.65">240-300</text>
<rect x="422.1" y="381.2" width="7" height="7.2" fill="#6A0692"/>
<text x="435.70000000000005" y="387.6" class="lg" font-size="7.65">300-400</text>
<rect x="422.1" y="391.8" width="7" height="7.2" fill="#780660"/>
<text x="435.70000000000005" y="398.2" class="lg" font-size="7.65">400-500</text>

</svg>
</body></html>
